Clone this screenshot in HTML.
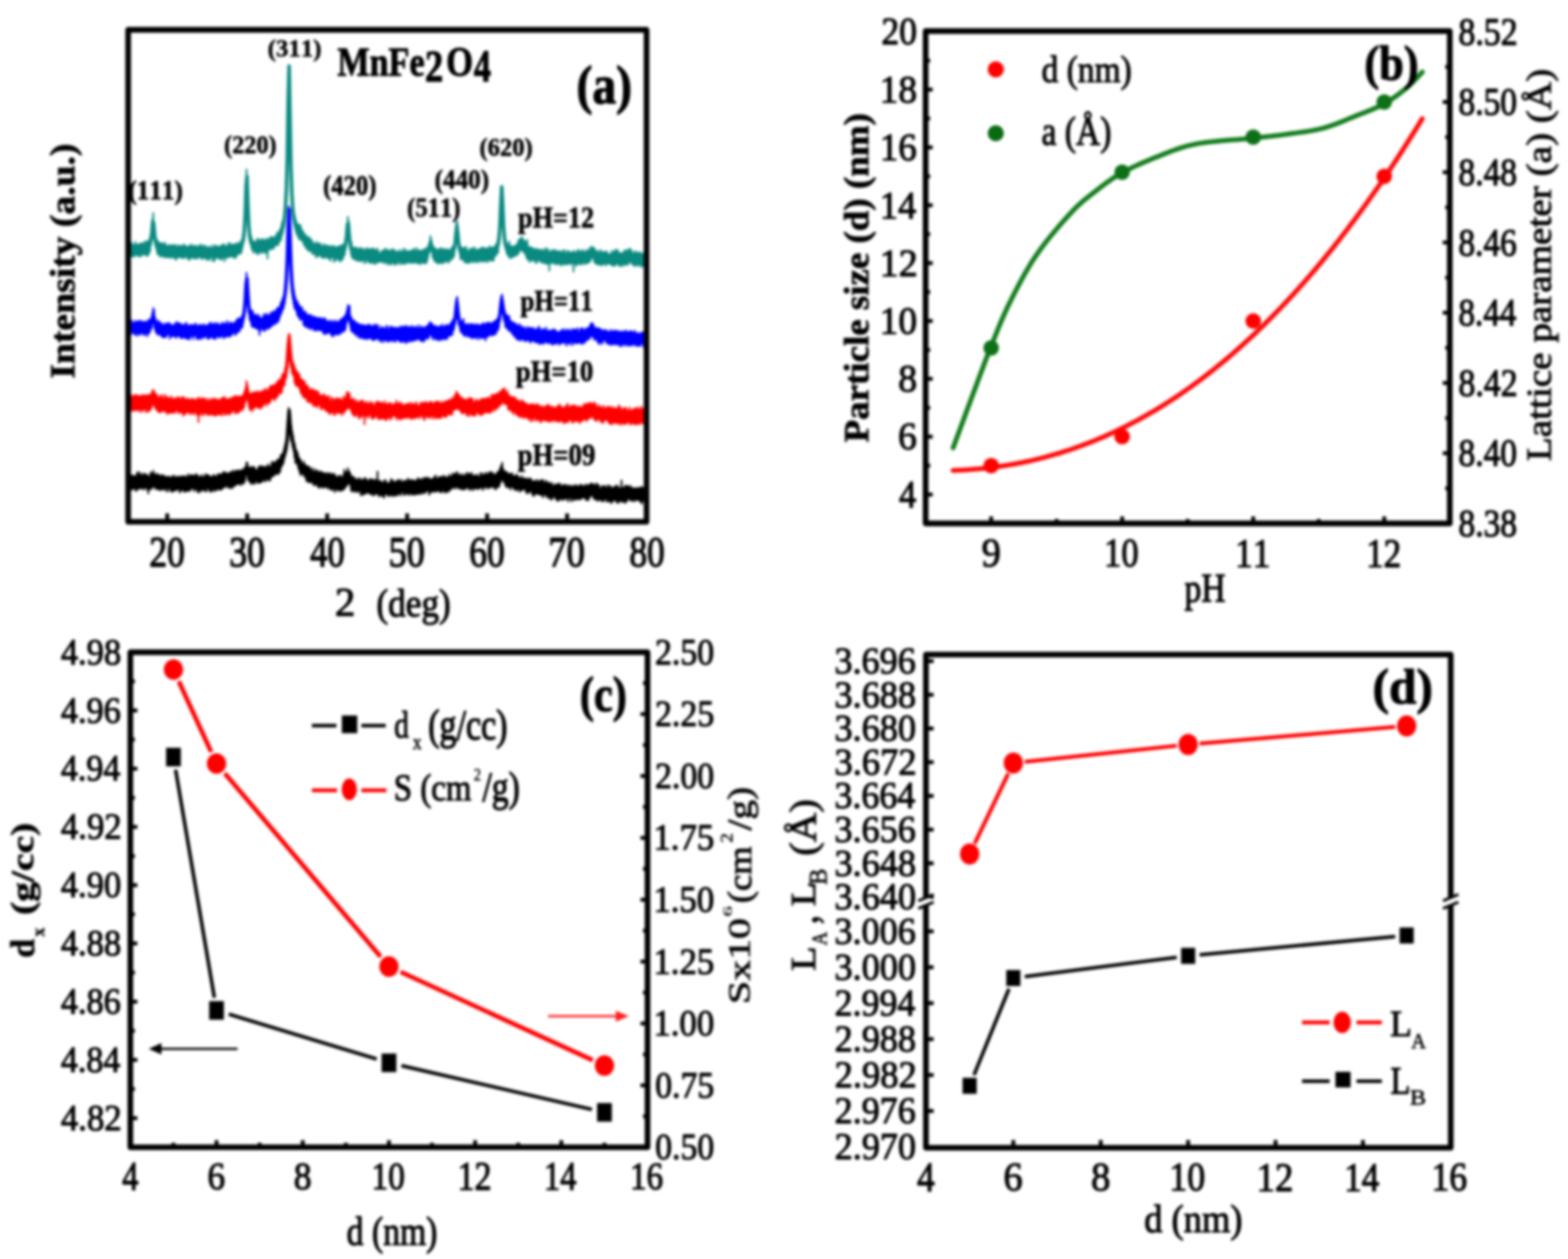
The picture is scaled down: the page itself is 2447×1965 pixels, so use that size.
<!DOCTYPE html><html><head><meta charset="utf-8"><title>MnFe2O4 figure</title>
<style>html,body{margin:0;padding:0;background:#fff;}svg{display:block;}text{font-family:'Liberation Serif', 'Times New Roman', serif;font-kerning:none;}</style></head><body>
<svg width="2447" height="1965" viewBox="0 0 2447 1965">
<rect width="2447" height="1965" fill="#fff"/>
<defs><filter id="bl" color-interpolation-filters="sRGB" x="0" y="0" width="100%" height="100%" filterUnits="userSpaceOnUse"><feGaussianBlur stdDeviation="2.0"/></filter></defs>
<g filter="url(#bl)">
<rect width="2447" height="1965" fill="#fff"/>
<polyline points="202.0,763.8 202.7,742.3 203.4,764.7 204.1,743.4 204.8,762.6 205.5,742.0 206.2,764.1 206.9,742.3 207.6,761.3 208.3,742.5 209.0,762.7 209.7,743.6 210.4,762.0 211.1,743.7 211.8,766.1 212.5,742.6 213.2,765.8 213.9,737.5 214.6,760.8 215.3,740.5 216.0,763.4 216.7,736.7 217.4,760.6 218.1,744.5 218.8,762.5 219.5,741.2 220.2,762.5 220.9,738.6 221.6,761.3 222.3,744.1 223.0,762.5 223.7,742.1 224.4,764.1 225.1,739.3 225.8,760.8 226.5,739.6 227.2,761.4 227.9,740.6 228.6,762.0 229.3,744.6 230.0,764.8 230.7,741.9 231.4,770.2 232.1,749.3 232.8,763.3 233.5,743.3 234.2,760.3 234.9,737.3 235.6,763.9 236.3,740.1 237.0,761.4 237.7,738.9 238.4,761.0 239.1,734.9 239.8,756.8 240.5,738.7 241.2,759.5 241.9,742.3 242.6,763.4 243.3,741.1 244.0,762.3 244.7,739.3 245.4,762.7 246.1,744.1 246.8,764.2 247.5,740.5 248.2,760.7 248.9,743.7 249.6,765.1 250.3,742.3 251.0,762.2 251.7,747.5 252.4,764.5 253.1,741.4 253.8,761.4 254.5,742.1 255.2,763.1 255.9,744.1 256.6,765.2 257.3,743.4 258.0,760.2 258.7,744.9 259.4,762.9 260.1,746.0 260.8,767.3 261.5,743.8 262.2,766.3 262.9,744.5 263.6,761.3 264.3,744.4 265.0,762.1 265.7,745.1 266.4,766.1 267.1,746.5 267.8,767.4 268.5,743.8 269.2,763.4 269.9,743.8 270.6,767.3 271.3,742.1 272.0,764.2 272.7,744.9 273.4,765.2 274.1,745.4 274.8,765.0 275.5,744.9 276.2,764.9 276.9,743.5 277.6,763.4 278.3,744.7 279.0,763.0 279.7,745.0 280.4,768.8 281.1,743.5 281.8,767.1 282.5,744.7 283.2,764.0 283.9,743.7 284.6,764.9 285.3,743.6 286.0,763.4 286.7,743.3 287.4,767.5 288.1,744.6 288.8,767.7 289.5,743.2 290.2,765.7 290.9,746.5 291.6,766.2 292.3,744.4 293.0,765.6 293.7,740.3 294.4,766.5 295.1,743.0 295.8,766.2 296.5,744.7 297.2,764.4 297.9,741.5 298.6,762.2 299.3,741.3 300.0,762.3 300.7,743.6 301.4,762.4 302.1,742.3 302.8,766.8 303.5,741.7 304.2,760.0 304.9,744.0 305.6,763.8 306.3,739.9 307.0,764.8 307.7,742.5 308.4,768.2 309.1,742.4 309.8,764.6 310.5,747.9 311.2,768.7 311.9,744.3 312.6,763.5 313.3,744.5 314.0,765.2 314.7,741.4 315.4,766.3 316.1,744.2 316.8,764.4 317.5,745.6 318.2,761.0 318.9,744.0 319.6,766.3 320.3,740.0 321.0,764.6 321.7,742.1 322.4,767.2 323.1,741.6 323.8,761.3 324.5,741.4 325.2,762.1 325.9,742.1 326.6,766.0 327.3,744.2 328.0,766.2 328.7,744.4 329.4,767.9 330.1,746.2 330.8,766.3 331.5,742.8 332.2,764.5 332.9,744.0 333.6,758.8 334.3,741.1 335.0,766.8 335.7,743.8 336.4,764.4 337.1,745.1 337.8,765.1 338.5,743.4 339.2,763.1 339.9,740.4 340.6,761.9 341.3,741.0 342.0,764.4 342.7,739.7 343.4,764.5 344.1,743.1 344.8,763.4 345.5,740.5 346.2,763.7 346.9,739.3 347.6,762.2 348.3,736.7 349.0,759.0 349.7,739.0 350.4,760.4 351.1,737.1 351.8,759.7 352.5,740.5 353.2,757.3 353.9,738.4 354.6,758.7 355.3,738.8 356.0,761.6 356.7,739.3 357.4,758.8 358.1,738.8 358.8,760.2 359.5,736.8 360.2,762.4 360.9,736.7 361.6,757.3 362.3,737.9 363.0,761.4 363.7,734.4 364.4,756.2 365.1,739.2 365.8,758.7 366.5,736.4 367.2,757.2 367.9,734.9 368.6,756.6 369.3,734.9 370.0,754.3 370.7,734.0 371.4,755.8 372.1,735.3 372.8,754.7 373.5,734.3 374.2,754.8 374.9,736.9 375.6,757.1 376.3,734.4 377.0,755.9 377.7,733.0 378.4,754.1 379.1,733.0 379.8,750.4 380.5,732.7 381.2,754.4 381.9,729.3 382.6,749.5 383.3,729.1 384.0,741.9 384.7,721.9 385.4,738.5 386.1,722.1 386.8,748.5 387.5,728.4 388.2,750.7 388.9,730.4 389.6,750.4 390.3,730.2 391.0,754.4 391.7,728.9 392.4,755.5 393.1,730.5 393.8,753.7 394.5,729.0 395.2,752.2 395.9,728.2 396.6,755.3 397.3,730.5 398.0,754.8 398.7,732.2 399.4,749.5 400.1,734.9 400.8,751.3 401.5,734.0 402.2,753.4 402.9,729.8 403.6,754.2 404.3,728.8 405.0,752.7 405.7,727.0 406.4,752.8 407.1,728.2 407.8,752.7 408.5,729.2 409.2,751.4 409.9,727.7 410.6,748.6 411.3,731.2 412.0,748.9 412.7,728.4 413.4,751.4 414.1,729.5 414.8,750.5 415.5,728.5 416.2,746.4 416.9,730.1 417.6,748.2 418.3,724.9 419.0,749.4 419.7,727.5 420.4,750.1 421.1,728.3 421.8,749.5 422.5,728.6 423.2,744.4 423.9,721.9 424.6,743.9 425.3,720.6 426.0,741.7 426.7,730.4 427.4,742.9 428.1,722.7 428.8,740.3 429.5,720.8 430.2,739.6 430.9,721.7 431.6,739.8 432.3,718.8 433.0,735.8 433.7,717.1 434.4,740.2 435.1,717.5 435.8,737.5 436.5,716.4 437.2,736.3 437.9,710.6 438.6,729.6 439.3,710.3 440.0,727.2 440.7,708.3 441.4,724.6 442.1,705.1 442.8,721.4 443.5,699.2 444.2,714.4 444.9,693.4 445.6,709.8 446.3,687.9 447.0,704.2 447.7,678.9 448.4,692.9 449.1,663.3 449.8,674.5 450.5,636.6 451.2,654.6 451.9,639.6 452.6,671.9 453.3,657.9 454.0,687.3 454.7,664.8 455.4,690.4 456.1,673.8 456.8,698.1 457.5,680.5 458.2,704.0 458.9,689.0 459.6,714.3 460.3,693.7 461.0,722.8 461.7,701.4 462.4,720.6 463.1,703.8 463.8,724.3 464.5,706.8 465.2,729.9 465.9,712.4 466.6,733.6 467.3,715.9 468.0,738.2 468.7,717.2 469.4,742.3 470.1,719.5 470.8,738.4 471.5,724.3 472.2,739.6 472.9,723.7 473.6,740.3 474.3,720.6 475.0,743.9 475.7,725.6 476.4,743.6 477.1,726.1 477.8,749.8 478.5,727.7 479.2,751.1 479.9,727.6 480.6,752.2 481.3,729.2 482.0,750.2 482.7,728.8 483.4,752.7 484.1,730.1 484.8,753.3 485.5,735.0 486.2,752.8 486.9,734.1 487.6,751.6 488.3,731.1 489.0,756.8 489.7,737.7 490.4,756.1 491.1,736.6 491.8,757.5 492.5,733.0 493.2,754.8 493.9,738.2 494.6,756.3 495.3,734.6 496.0,760.0 496.7,740.4 497.4,757.3 498.1,736.6 498.8,761.9 499.5,736.5 500.2,759.5 500.9,735.8 501.6,759.1 502.3,737.4 503.0,759.8 503.7,740.3 504.4,761.8 505.1,738.1 505.8,760.5 506.5,742.4 507.2,759.5 507.9,738.3 508.6,759.8 509.3,743.5 510.0,760.2 510.7,738.8 511.4,762.6 512.1,740.8 512.8,758.6 513.5,738.0 514.2,761.3 514.9,742.8 515.6,763.9 516.3,739.7 517.0,763.7 517.7,739.4 518.4,765.3 519.1,740.5 519.8,763.3 520.5,742.2 521.2,762.5 521.9,739.2 522.6,767.9 523.3,743.7 524.0,759.6 524.7,743.2 525.4,765.2 526.1,745.1 526.8,759.6 527.5,745.8 528.2,764.1 528.9,742.3 529.6,766.6 530.3,743.2 531.0,764.8 531.7,742.8 532.4,764.6 533.1,746.7 533.8,765.7 534.5,745.0 535.2,764.6 535.9,741.1 536.6,761.6 537.3,733.1 538.0,762.9 538.7,740.6 539.4,758.7 540.1,737.2 540.8,759.2 541.5,736.1 542.2,756.5 542.9,730.8 543.6,754.1 544.3,735.5 545.0,754.8 545.7,736.6 546.4,757.1 547.1,740.1 547.8,765.7 548.5,744.9 549.2,767.3 549.9,743.9 550.6,764.1 551.3,745.5 552.0,765.7 552.7,744.6 553.4,768.0 554.1,749.6 554.8,765.9 555.5,748.5 556.2,766.6 556.9,747.4 557.6,765.9 558.3,749.0 559.0,768.8 559.7,750.7 560.4,765.5 561.1,746.0 561.8,766.3 562.5,749.1 563.2,773.2 563.9,748.6 564.6,769.9 565.3,749.8 566.0,772.2 566.7,750.8 567.4,768.0 568.1,746.2 568.8,771.5 569.5,748.0 570.2,768.1 570.9,746.6 571.6,770.2 572.3,749.8 573.0,767.4 573.7,750.4 574.4,768.6 575.1,752.5 575.8,769.5 576.5,748.1 577.2,770.5 577.9,749.8 578.6,771.7 579.3,747.5 580.0,770.5 580.7,748.8 581.4,771.4 582.1,749.6 582.8,773.6 583.5,750.1 584.2,768.0 584.9,748.4 585.6,771.8 586.3,750.6 587.0,770.6 587.7,750.2 588.4,770.7 589.1,736.0 589.8,770.2 590.5,754.0 591.2,775.0 591.9,750.3 592.6,773.2 593.3,753.0 594.0,772.8 594.7,751.4 595.4,772.7 596.1,751.7 596.8,775.0 597.5,754.3 598.2,771.2 598.9,753.5 599.6,777.0 600.3,749.2 601.0,770.9 601.7,749.6 602.4,771.4 603.1,752.4 603.8,770.4 604.5,755.6 605.2,773.6 605.9,754.3 606.6,772.7 607.3,754.3 608.0,774.5 608.7,752.3 609.4,771.2 610.1,747.7 610.8,772.5 611.5,753.2 612.2,773.2 612.9,749.3 613.6,774.6 614.3,756.2 615.0,772.7 615.7,752.1 616.4,772.3 617.1,752.0 617.8,773.6 618.5,752.3 619.2,772.1 619.9,749.9 620.6,772.9 621.3,749.1 622.0,769.2 622.7,752.1 623.4,770.0 624.1,750.4 624.8,773.1 625.5,748.9 626.2,771.5 626.9,752.7 627.6,767.9 628.3,753.9 629.0,766.4 629.7,750.5 630.4,772.6 631.1,751.2 631.8,772.4 632.5,750.1 633.2,770.4 633.9,753.9 634.6,769.7 635.3,750.4 636.0,770.4 636.7,747.1 637.4,772.6 638.1,748.9 638.8,770.2 639.5,751.5 640.2,760.8 640.9,749.7 641.6,772.1 642.3,749.3 643.0,770.0 643.7,749.7 644.4,772.0 645.1,749.5 645.8,770.7 646.5,750.3 647.2,772.3 647.9,752.0 648.6,770.8 649.3,750.0 650.0,771.4 650.7,749.8 651.4,770.9 652.1,746.3 652.8,770.8 653.5,747.5 654.2,768.9 654.9,748.0 655.6,771.1 656.3,750.3 657.0,770.5 657.7,749.4 658.4,768.9 659.1,746.6 659.8,766.0 660.5,750.9 661.2,770.5 661.9,747.2 662.6,768.7 663.3,745.3 664.0,768.4 664.7,746.4 665.4,767.2 666.1,747.0 666.8,765.2 667.5,745.3 668.2,765.6 668.9,748.4 669.6,772.1 670.3,746.7 671.0,766.8 671.7,749.5 672.4,769.1 673.1,748.2 673.8,766.3 674.5,747.4 675.2,766.9 675.9,747.9 676.6,767.2 677.3,745.9 678.0,767.3 678.7,743.6 679.4,765.7 680.1,742.4 680.8,767.6 681.5,747.4 682.2,766.1 682.9,748.5 683.6,764.5 684.3,745.2 685.0,766.3 685.7,744.6 686.4,767.4 687.1,744.2 687.8,768.4 688.5,748.0 689.2,768.4 689.9,744.0 690.6,765.9 691.3,748.0 692.0,762.6 692.7,742.3 693.4,767.4 694.1,744.6 694.8,769.1 695.5,744.8 696.2,765.9 696.9,746.6 697.6,767.7 698.3,744.5 699.0,764.0 699.7,746.2 700.4,767.5 701.1,740.8 701.8,764.5 702.5,744.3 703.2,764.2 703.9,743.8 704.6,763.1 705.3,742.4 706.0,759.2 706.7,738.6 707.4,760.8 708.1,744.5 708.8,762.0 709.5,740.1 710.2,762.5 710.9,740.0 711.6,759.8 712.3,737.8 713.0,757.4 713.7,736.9 714.4,762.2 715.1,741.3 715.8,760.6 716.5,741.5 717.2,762.2 717.9,743.2 718.6,763.1 719.3,739.5 720.0,760.6 720.7,742.2 721.4,764.3 722.1,742.8 722.8,759.6 723.5,743.4 724.2,763.6 724.9,739.9 725.6,764.0 726.3,745.0 727.0,761.9 727.7,741.9 728.4,760.4 729.1,737.9 729.8,761.6 730.5,741.8 731.2,759.3 731.9,739.0 732.6,765.0 733.3,741.8 734.0,763.5 734.7,740.2 735.4,762.7 736.1,737.9 736.8,761.5 737.5,742.5 738.2,765.1 738.9,742.7 739.6,761.9 740.3,742.1 741.0,762.3 741.7,742.7 742.4,762.0 743.1,742.8 743.8,763.1 744.5,740.3 745.2,759.2 745.9,744.5 746.6,763.3 747.3,743.9 748.0,762.4 748.7,743.4 749.4,761.7 750.1,738.4 750.8,760.8 751.5,738.5 752.2,759.6 752.9,742.0 753.6,764.9 754.3,741.3 755.0,761.3 755.7,742.9 756.4,761.3 757.1,738.0 757.8,759.6 758.5,739.1 759.2,758.1 759.9,740.3 760.6,762.6 761.3,742.8 762.0,761.6 762.7,737.5 763.4,760.5 764.1,736.9 764.8,757.8 765.5,737.9 766.2,761.5 766.9,740.4 767.6,760.2 768.3,736.9 769.0,758.8 769.7,740.2 770.4,759.1 771.1,740.4 771.8,762.8 772.5,741.0 773.2,763.5 773.9,740.9 774.6,763.3 775.3,738.6 776.0,758.4 776.7,736.2 777.4,759.6 778.1,736.6 778.8,760.2 779.5,733.9 780.2,755.8 780.9,729.2 781.6,751.8 782.3,726.5 783.0,739.2 783.7,722.0 784.4,749.3 785.1,731.2 785.8,752.2 786.5,737.1 787.2,753.3 787.9,735.5 788.6,757.4 789.3,735.8 790.0,760.1 790.7,737.6 791.4,757.6 792.1,738.3 792.8,760.7 793.5,739.0 794.2,761.0 794.9,741.3 795.6,759.1 796.3,739.6 797.0,764.3 797.7,740.2 798.4,758.4 799.1,738.3 799.8,759.7 800.5,743.2 801.2,761.7 801.9,742.9 802.6,763.1 803.3,742.8 804.0,765.0 804.7,743.3 805.4,763.6 806.1,740.6 806.8,765.5 807.5,743.6 808.2,762.6 808.9,743.4 809.6,763.6 810.3,748.1 811.0,767.6 811.7,745.7 812.4,764.0 813.1,747.8 813.8,765.4 814.5,743.0 815.2,764.8 815.9,746.7 816.6,763.4 817.3,747.8 818.0,763.8 818.7,746.8 819.4,763.5 820.1,746.6 820.8,768.7 821.5,747.4 822.2,765.4 822.9,748.4 823.6,770.4 824.3,748.2 825.0,768.2 825.7,746.5 826.4,767.9 827.1,748.7 827.8,766.0 828.5,747.1 829.2,767.2 829.9,750.5 830.6,772.4 831.3,752.9 832.0,771.8 832.7,750.7 833.4,774.5 834.1,750.9 834.8,770.1 835.5,750.6 836.2,770.9 836.9,752.0 837.6,770.4 838.3,749.0 839.0,770.5 839.7,754.8 840.4,771.8 841.1,751.9 841.8,771.9 842.5,750.7 843.2,772.0 843.9,749.6 844.6,772.7 845.3,749.2 846.0,772.7 846.7,755.4 847.4,776.7 848.1,749.3 848.8,772.9 849.5,753.3 850.2,770.9 850.9,754.5 851.6,772.2 852.3,750.9 853.0,774.6 853.7,751.6 854.4,777.1 855.1,755.5 855.8,775.6 856.5,753.5 857.2,770.9 857.9,754.4 858.6,779.3 859.3,757.4 860.0,779.5 860.7,753.2 861.4,779.1 862.1,758.8 862.8,776.8 863.5,758.6 864.2,774.2 864.9,755.9 865.6,775.3 866.3,757.1 867.0,779.0 867.7,757.0 868.4,778.1 869.1,755.9 869.8,781.9 870.5,760.6 871.2,778.7 871.9,754.3 872.6,781.3 873.3,759.0 874.0,777.0 874.7,755.7 875.4,778.8 876.1,759.4 876.8,778.9 877.5,759.2 878.2,780.1 878.9,756.6 879.6,780.2 880.3,759.6 881.0,778.0 881.7,756.9 882.4,776.6 883.1,758.4 883.8,778.6 884.5,757.1 885.2,778.6 885.9,761.6 886.6,782.6 887.3,758.8 888.0,777.0 888.7,757.6 889.4,776.2 890.1,758.5 890.8,780.1 891.5,759.6 892.2,782.5 892.9,760.7 893.6,775.8 894.3,757.6 895.0,778.4 895.7,760.1 896.4,780.7 897.1,759.4 897.8,776.1 898.5,756.8 899.2,779.7 899.9,758.6 900.6,777.6 901.3,758.6 902.0,779.2 902.7,759.0 903.4,778.3 904.1,759.2 904.8,780.0 905.5,756.4 906.2,778.2 906.9,758.6 907.6,776.7 908.3,757.4 909.0,777.6 909.7,758.6 910.4,776.0 911.1,759.6 911.8,776.3 912.5,759.0 913.2,777.8 913.9,756.1 914.6,780.7 915.3,760.9 916.0,780.3 916.7,757.3 917.4,775.4 918.1,757.0 918.8,780.6 919.5,759.5 920.2,773.9 920.9,756.1 921.6,775.5 922.3,754.3 923.0,773.3 923.7,756.8 924.4,771.1 925.1,755.3 925.8,775.9 926.5,756.1 927.2,779.2 927.9,757.6 928.6,779.1 929.3,759.7 930.0,777.8 930.7,754.3 931.4,780.5 932.1,756.4 932.8,781.6 933.5,757.1 934.2,780.6 934.9,757.6 935.6,779.4 936.3,763.3 937.0,779.3 937.7,762.4 938.4,781.5 939.1,759.3 939.8,782.8 940.5,758.9 941.2,778.9 941.9,758.8 942.6,781.9 943.3,761.2 944.0,778.9 944.7,758.6 945.4,775.6 946.1,761.3 946.8,783.0 947.5,762.8 948.2,781.2 948.9,757.4 949.6,782.7 950.3,761.2 951.0,778.1 951.7,758.8 952.4,782.7 953.1,759.1 953.8,785.5 954.5,762.6 955.2,783.5 955.9,762.8 956.6,780.1 957.3,760.3 958.0,781.8 958.7,760.0 959.4,779.9 960.1,762.0 960.8,780.2 961.5,757.6 962.2,784.2 962.9,760.5 963.6,779.9 964.3,758.5 965.0,785.2 965.7,763.2 966.4,779.0 967.1,761.8 967.8,782.3 968.5,762.8 969.2,779.3 969.9,749.8 970.6,783.1 971.3,762.0 972.0,783.3 972.7,761.1 973.4,781.2 974.1,762.0 974.8,783.9 975.5,758.1 976.2,785.0 976.9,760.0 977.6,781.9 978.3,758.3 979.0,781.7 979.7,758.2 980.4,777.7 981.1,759.9 981.8,778.3 982.5,765.2 983.2,780.7 983.9,758.2 984.6,779.7 985.3,763.2 986.0,782.2 986.7,761.4 987.4,780.6 988.1,762.8 988.8,779.0 989.5,762.2 990.2,782.5 990.9,762.4 991.6,778.7 992.3,763.0 993.0,780.5 993.7,761.2 994.4,780.1 995.1,762.1 995.8,780.6 996.5,762.7 997.2,779.8 997.9,761.8 998.6,781.9 999.3,761.4 1000.0,783.7 1000.7,759.9 1001.4,786.1 1002.1,761.6 1002.8,782.6 1003.5,761.3 1004.2,780.5 1004.9,761.5 1005.6,780.0 1006.3,759.6" fill="none" stroke="#000000" stroke-width="2.6" stroke-linejoin="round" stroke-linecap="round"/>
<polyline points="202.0,751.0 203.4,751.1 204.8,751.2 206.2,751.3 207.6,751.4 209.0,751.5 210.4,751.6 211.8,751.7 213.2,751.7 214.6,751.8 216.0,751.9 217.4,752.0 218.8,752.1 220.2,752.1 221.6,752.2 223.0,752.3 224.4,752.3 225.8,752.4 227.2,752.4 228.6,752.4 230.0,752.4 231.4,752.2 232.8,752.0 234.2,751.5 235.6,750.5 237.0,748.5 238.4,745.9 239.8,746.3 241.2,749.2 242.6,751.2 244.0,752.3 245.4,752.9 246.8,753.3 248.2,753.6 249.6,753.8 251.0,754.0 252.4,754.1 253.8,754.3 255.2,754.4 256.6,754.5 258.0,754.6 259.4,754.7 260.8,754.8 262.2,754.8 263.6,754.8 265.0,754.8 266.4,754.7 267.8,754.7 269.2,754.7 270.6,754.7 272.0,754.7 273.4,754.7 274.8,754.6 276.2,754.6 277.6,754.6 279.0,754.6 280.4,754.6 281.8,754.5 283.2,754.5 284.6,754.5 286.0,754.5 287.4,754.5 288.8,754.4 290.2,754.4 291.6,754.4 293.0,754.4 294.4,754.3 295.8,754.3 297.2,754.3 298.6,754.3 300.0,754.3 301.4,754.2 302.8,754.2 304.2,754.2 305.6,754.2 307.0,754.1 308.4,754.1 309.8,754.1 311.2,754.1 312.6,754.1 314.0,754.0 315.4,754.0 316.8,754.0 318.2,754.0 319.6,753.9 321.0,753.9 322.4,753.9 323.8,753.9 325.2,753.8 326.6,753.8 328.0,753.8 329.4,753.8 330.8,753.6 332.2,753.4 333.6,753.2 335.0,752.9 336.4,752.7 337.8,752.5 339.2,752.2 340.6,752.0 342.0,751.8 343.4,751.5 344.8,751.3 346.2,751.1 347.6,750.8 349.0,750.6 350.4,750.4 351.8,750.1 353.2,749.9 354.6,749.7 356.0,749.4 357.4,749.2 358.8,748.9 360.2,748.7 361.6,748.4 363.0,748.2 364.4,747.9 365.8,747.7 367.2,747.4 368.6,747.1 370.0,746.9 371.4,746.6 372.8,746.3 374.2,745.9 375.6,745.5 377.0,745.1 378.4,744.5 379.8,743.6 381.2,742.1 382.6,739.2 384.0,733.5 385.4,731.0 386.8,736.5 388.2,740.0 389.6,741.5 391.0,742.1 392.4,742.3 393.8,742.3 395.2,742.2 396.6,742.1 398.0,741.9 399.4,741.7 400.8,741.5 402.2,741.2 403.6,741.0 405.0,740.7 406.4,740.4 407.8,740.1 409.2,739.8 410.6,739.5 412.0,739.2 413.4,738.9 414.8,738.5 416.2,738.1 417.6,737.8 419.0,737.4 420.4,736.8 421.8,736.1 423.2,735.3 424.6,734.5 426.0,733.6 427.4,732.7 428.8,731.7 430.2,730.6 431.6,729.5 433.0,728.2 434.4,726.7 435.8,725.0 437.2,723.1 438.6,720.9 440.0,718.3 441.4,715.6 442.8,712.3 444.2,708.0 445.6,702.4 447.0,694.8 448.4,683.0 449.8,661.1 451.2,641.1 452.6,660.6 454.0,673.8 455.4,681.8 456.8,689.0 458.2,695.7 459.6,701.7 461.0,707.3 462.4,712.3 463.8,716.4 465.2,720.0 466.6,722.9 468.0,725.5 469.4,727.7 470.8,729.7 472.2,731.4 473.6,733.0 475.0,734.4 476.4,735.7 477.8,737.0 479.2,738.1 480.6,739.2 482.0,740.3 483.4,741.3 484.8,742.3 486.2,743.2 487.6,744.1 489.0,745.0 490.4,745.7 491.8,746.1 493.2,746.5 494.6,746.9 496.0,747.2 497.4,747.6 498.8,747.9 500.2,748.3 501.6,748.6 503.0,748.9 504.4,749.2 505.8,749.5 507.2,749.8 508.6,750.1 510.0,750.4 511.4,750.7 512.8,751.0 514.2,751.2 515.6,751.5 517.0,751.8 518.4,752.0 519.8,752.3 521.2,752.5 522.6,752.7 524.0,752.9 525.4,753.1 526.8,753.3 528.2,753.4 529.6,753.5 531.0,753.5 532.4,753.5 533.8,753.3 535.2,752.9 536.6,752.3 538.0,751.1 539.4,749.3 540.8,746.7 542.2,744.3 543.6,744.2 545.0,746.7 546.4,749.7 547.8,752.1 549.2,753.7 550.6,754.9 552.0,755.7 553.4,756.3 554.8,756.8 556.2,757.2 557.6,757.5 559.0,757.8 560.4,758.1 561.8,758.3 563.2,758.6 564.6,758.8 566.0,759.0 567.4,759.1 568.8,759.3 570.2,759.5 571.6,759.7 573.0,759.8 574.4,760.0 575.8,760.2 577.2,760.3 578.6,760.5 580.0,760.6 581.4,760.8 582.8,760.9 584.2,761.1 585.6,761.3 587.0,761.4 588.4,761.6 589.8,761.7 591.2,761.8 592.6,762.0 594.0,762.1 595.4,762.3 596.8,762.4 598.2,762.6 599.6,762.7 601.0,762.7 602.4,762.6 603.8,762.5 605.2,762.4 606.6,762.3 608.0,762.2 609.4,762.1 610.8,762.0 612.2,761.9 613.6,761.8 615.0,761.7 616.4,761.6 617.8,761.5 619.2,761.4 620.6,761.3 622.0,761.2 623.4,761.1 624.8,761.0 626.2,760.9 627.6,760.8 629.0,760.7 630.4,760.6 631.8,760.5 633.2,760.4 634.6,760.3 636.0,760.2 637.4,760.1 638.8,760.0 640.2,759.9 641.6,759.7 643.0,759.6 644.4,759.5 645.8,759.4 647.2,759.3 648.6,759.2 650.0,759.1 651.4,759.0 652.8,758.9 654.2,758.8 655.6,758.7 657.0,758.6 658.4,758.5 659.8,758.4 661.2,758.3 662.6,758.2 664.0,758.1 665.4,758.0 666.8,757.9 668.2,757.8 669.6,757.7 671.0,757.5 672.4,757.4 673.8,757.3 675.2,757.2 676.6,757.1 678.0,757.0 679.4,756.9 680.8,756.8 682.2,756.7 683.6,756.5 685.0,756.4 686.4,756.3 687.8,756.2 689.2,756.0 690.6,755.9 692.0,755.8 693.4,755.6 694.8,755.5 696.2,755.3 697.6,755.2 699.0,755.0 700.4,754.8 701.8,754.6 703.2,754.3 704.6,754.0 706.0,753.5 707.4,752.9 708.8,751.8 710.2,750.1 711.6,747.7 713.0,746.2 714.4,747.5 715.8,749.7 717.2,751.1 718.6,751.9 720.0,752.4 721.4,752.6 722.8,752.7 724.2,752.7 725.6,752.7 727.0,752.7 728.4,752.6 729.8,752.5 731.2,752.5 732.6,752.4 734.0,752.3 735.4,752.2 736.8,752.1 738.2,752.0 739.6,751.9 741.0,751.8 742.4,751.7 743.8,751.6 745.2,751.5 746.6,751.5 748.0,751.4 749.4,751.3 750.8,751.2 752.2,751.1 753.6,751.0 755.0,751.0 756.4,750.9 757.8,750.8 759.2,750.7 760.6,750.6 762.0,750.5 763.4,750.4 764.8,750.3 766.2,750.2 767.6,750.1 769.0,750.0 770.4,749.9 771.8,749.7 773.2,749.5 774.6,749.3 776.0,749.0 777.4,748.5 778.8,747.6 780.2,745.5 781.6,739.8 783.0,731.4 784.4,739.7 785.8,745.2 787.2,747.1 788.6,747.8 790.0,748.2 791.4,748.8 792.8,749.3 794.2,749.8 795.6,750.2 797.0,750.7 798.4,751.1 799.8,751.5 801.2,751.9 802.6,752.3 804.0,752.7 805.4,753.1 806.8,753.5 808.2,753.9 809.6,754.3 811.0,754.7 812.4,755.1 813.8,755.5 815.2,755.8 816.6,756.2 818.0,756.6 819.4,757.0 820.8,757.4 822.2,757.8 823.6,758.2 825.0,758.6 826.4,758.9 827.8,759.3 829.2,759.7 830.6,760.1 832.0,760.3 833.4,760.6 834.8,760.9 836.2,761.2 837.6,761.5 839.0,761.7 840.4,762.0 841.8,762.3 843.2,762.6 844.6,762.9 846.0,763.1 847.4,763.4 848.8,763.7 850.2,764.0 851.6,764.3 853.0,764.5 854.4,764.8 855.8,765.1 857.2,765.4 858.6,765.7 860.0,765.9 861.4,766.2 862.8,766.5 864.2,766.8 865.6,767.1 867.0,767.3 868.4,767.6 869.8,767.9 871.2,768.0 872.6,768.0 874.0,768.1 875.4,768.1 876.8,768.1 878.2,768.2 879.6,768.2 881.0,768.2 882.4,768.3 883.8,768.3 885.2,768.4 886.6,768.4 888.0,768.4 889.4,768.5 890.8,768.5 892.2,768.5 893.6,768.6 895.0,768.6 896.4,768.6 897.8,768.7 899.2,768.7 900.6,768.7 902.0,768.7 903.4,768.7 904.8,768.8 906.2,768.8 907.6,768.8 909.0,768.8 910.4,768.7 911.8,768.7 913.2,768.6 914.6,768.5 916.0,768.3 917.4,768.0 918.8,767.5 920.2,766.8 921.6,765.8 923.0,764.8 924.4,764.6 925.8,765.4 927.2,766.6 928.6,767.5 930.0,768.2 931.4,768.6 932.8,768.9 934.2,769.1 935.6,769.3 937.0,769.5 938.4,769.6 939.8,769.7 941.2,769.8 942.6,769.8 944.0,769.9 945.4,770.0 946.8,770.0 948.2,770.1 949.6,770.1 951.0,770.2 952.4,770.2 953.8,770.3 955.2,770.3 956.6,770.4 958.0,770.4 959.4,770.5 960.8,770.5 962.2,770.6 963.6,770.6 965.0,770.7 966.4,770.7 967.8,770.7 969.2,770.8 970.6,770.8 972.0,770.9 973.4,770.9 974.8,770.9 976.2,771.0 977.6,771.0 979.0,771.1 980.4,771.1 981.8,771.2 983.2,771.2 984.6,771.2 986.0,771.3 987.4,771.3 988.8,771.4 990.2,771.4 991.6,771.4 993.0,771.5 994.4,771.5 995.8,771.6 997.2,771.6 998.6,771.6 1000.0,771.7 1001.4,771.7 1002.8,771.8 1004.2,771.8 1005.6,771.8" fill="none" stroke="#000000" stroke-width="5.5" stroke-linejoin="round" stroke-linecap="round"/>
<polyline points="202.0,638.7 202.7,621.1 203.4,642.6 204.1,618.9 204.8,637.2 205.5,617.2 206.2,640.1 206.9,620.8 207.6,641.4 208.3,618.7 209.0,638.9 209.7,616.6 210.4,639.9 211.1,616.8 211.8,641.3 212.5,616.6 213.2,639.3 213.9,619.5 214.6,640.0 215.3,617.2 216.0,638.8 216.7,617.9 217.4,641.0 218.1,620.2 218.8,643.2 219.5,618.6 220.2,638.8 220.9,616.7 221.6,638.6 222.3,617.1 223.0,642.2 223.7,617.2 224.4,640.9 225.1,617.9 225.8,638.2 226.5,616.8 227.2,637.8 227.9,616.7 228.6,643.4 229.3,620.7 230.0,642.6 230.7,617.0 231.4,641.9 232.1,616.5 232.8,637.9 233.5,615.5 234.2,640.7 234.9,619.6 235.6,638.4 236.3,614.6 237.0,635.3 237.7,609.9 238.4,628.0 239.1,608.4 239.8,631.5 240.5,610.9 241.2,634.5 241.9,614.4 242.6,638.5 243.3,618.0 244.0,638.3 244.7,615.3 245.4,640.5 246.1,618.6 246.8,642.5 247.5,621.8 248.2,643.0 248.9,620.8 249.6,644.2 250.3,618.7 251.0,640.4 251.7,616.3 252.4,642.4 253.1,618.2 253.8,639.7 254.5,622.3 255.2,640.6 255.9,624.4 256.6,642.2 257.3,615.8 258.0,642.3 258.7,623.3 259.4,641.9 260.1,619.4 260.8,646.4 261.5,620.2 262.2,642.3 262.9,621.3 263.6,644.7 264.3,623.2 265.0,644.3 265.7,621.6 266.4,644.2 267.1,618.4 267.8,644.3 268.5,622.8 269.2,644.1 269.9,623.2 270.6,643.8 271.3,622.7 272.0,642.2 272.7,621.1 273.4,644.7 274.1,623.5 274.8,639.8 275.5,622.9 276.2,640.1 276.9,619.7 277.6,643.0 278.3,624.1 279.0,645.2 279.7,620.1 280.4,643.5 281.1,623.0 281.8,642.5 282.5,623.2 283.2,643.4 283.9,620.2 284.6,645.2 285.3,619.4 286.0,649.3 286.7,620.6 287.4,645.0 288.1,621.7 288.8,646.1 289.5,626.8 290.2,645.6 290.9,623.2 291.6,642.7 292.3,621.9 293.0,643.1 293.7,623.1 294.4,644.2 295.1,627.1 295.8,644.2 296.5,623.5 297.2,647.0 297.9,623.0 298.6,641.9 299.3,623.9 300.0,644.4 300.7,622.4 301.4,644.5 302.1,624.3 302.8,647.2 303.5,623.2 304.2,640.9 304.9,626.2 305.6,643.2 306.3,624.2 307.0,647.1 307.7,622.6 308.4,642.7 309.1,621.9 309.8,659.1 310.5,620.6 311.2,648.8 311.9,626.0 312.6,645.9 313.3,622.8 314.0,644.1 314.7,625.8 315.4,645.8 316.1,620.6 316.8,649.2 317.5,622.7 318.2,641.5 318.9,627.5 319.6,644.6 320.3,622.1 321.0,645.9 321.7,622.7 322.4,644.5 323.1,626.2 323.8,648.7 324.5,626.2 325.2,643.7 325.9,622.4 326.6,646.1 327.3,625.5 328.0,647.5 328.7,627.7 329.4,647.6 330.1,622.5 330.8,647.3 331.5,622.8 332.2,642.4 332.9,625.5 333.6,648.3 334.3,622.2 335.0,647.3 335.7,624.4 336.4,649.2 337.1,622.3 337.8,646.2 338.5,625.5 339.2,647.5 339.9,624.0 340.6,646.7 341.3,625.0 342.0,646.9 342.7,624.3 343.4,645.8 344.1,623.4 344.8,647.0 345.5,621.5 346.2,648.9 346.9,625.7 347.6,644.0 348.3,620.6 349.0,641.4 349.7,621.1 350.4,647.6 351.1,619.6 351.8,643.4 352.5,624.3 353.2,646.9 353.9,623.9 354.6,643.7 355.3,622.7 356.0,644.7 356.7,624.9 357.4,647.6 358.1,621.6 358.8,645.6 359.5,626.0 360.2,645.3 360.9,622.1 361.6,643.3 362.3,620.6 363.0,641.9 363.7,620.1 364.4,642.0 365.1,620.0 365.8,640.8 366.5,618.2 367.2,646.0 367.9,618.4 368.6,641.0 369.3,619.0 370.0,644.5 370.7,622.9 371.4,642.9 372.1,617.7 372.8,644.2 373.5,620.3 374.2,641.4 374.9,619.5 375.6,640.1 376.3,618.2 377.0,640.3 377.7,618.0 378.4,640.0 379.1,618.5 379.8,637.2 380.5,613.1 381.2,634.9 381.9,615.8 382.6,628.2 383.3,604.6 384.0,623.4 384.7,594.6 385.4,615.8 386.1,599.9 386.8,627.2 387.5,609.8 388.2,633.9 388.9,614.0 389.6,640.2 390.3,614.8 391.0,638.3 391.7,614.2 392.4,638.8 393.1,615.0 393.8,642.2 394.5,611.9 395.2,636.7 395.9,613.7 396.6,637.4 397.3,613.1 398.0,633.6 398.7,612.0 399.4,635.2 400.1,614.7 400.8,632.7 401.5,610.3 402.2,636.6 402.9,613.7 403.6,634.2 404.3,613.2 405.0,637.2 405.7,611.1 406.4,630.7 407.1,613.3 407.8,637.4 408.5,611.7 409.2,634.2 409.9,609.5 410.6,633.5 411.3,609.9 412.0,632.2 412.7,611.4 413.4,628.9 414.1,606.0 414.8,628.8 415.5,609.0 416.2,633.6 416.9,610.1 417.6,626.4 418.3,609.3 419.0,629.1 419.7,605.8 420.4,629.1 421.1,604.9 421.8,627.7 422.5,601.9 423.2,622.8 423.9,603.3 424.6,622.8 425.3,601.7 426.0,620.9 426.7,601.8 427.4,622.5 428.1,600.7 428.8,625.5 429.5,602.9 430.2,621.5 430.9,598.2 431.6,619.4 432.3,596.7 433.0,619.6 433.7,595.9 434.4,616.1 435.1,592.6 435.8,613.5 436.5,594.6 437.2,611.2 437.9,592.5 438.6,614.1 439.3,588.8 440.0,611.9 440.7,584.1 441.4,604.6 442.1,583.2 442.8,601.7 443.5,583.1 444.2,600.9 444.9,574.7 445.6,592.4 446.3,571.2 447.0,588.6 447.7,555.4 448.4,570.1 449.1,544.8 449.8,552.6 450.5,521.5 451.2,537.6 451.9,521.2 452.6,556.3 453.3,547.6 454.0,573.4 454.7,553.9 455.4,580.8 456.1,563.9 456.8,585.4 457.5,565.5 458.2,585.9 458.9,570.0 459.6,596.8 460.3,573.3 461.0,600.7 461.7,578.0 462.4,602.0 463.1,580.4 463.8,600.6 464.5,580.4 465.2,603.5 465.9,587.4 466.6,604.3 467.3,584.3 468.0,608.5 468.7,591.4 469.4,613.6 470.1,591.3 470.8,614.3 471.5,592.0 472.2,617.5 472.9,594.7 473.6,619.7 474.3,596.2 475.0,621.4 475.7,595.0 476.4,620.7 477.1,602.3 477.8,619.9 478.5,601.7 479.2,626.0 479.9,601.8 480.6,627.8 481.3,604.1 482.0,625.0 482.7,608.2 483.4,626.5 484.1,608.5 484.8,629.4 485.5,608.6 486.2,627.3 486.9,606.9 487.6,628.9 488.3,609.6 489.0,634.1 489.7,608.8 490.4,630.1 491.1,612.9 491.8,633.3 492.5,609.4 493.2,630.3 493.9,613.2 494.6,636.3 495.3,610.9 496.0,633.5 496.7,611.3 497.4,631.2 498.1,616.7 498.8,631.7 499.5,617.8 500.2,637.3 500.9,616.3 501.6,639.5 502.3,618.5 503.0,636.0 503.7,620.3 504.4,635.6 505.1,614.6 505.8,638.7 506.5,620.0 507.2,637.8 507.9,617.8 508.6,641.6 509.3,618.2 510.0,640.9 510.7,622.1 511.4,641.9 512.1,620.4 512.8,643.6 513.5,617.9 514.2,646.7 514.9,625.7 515.6,644.6 516.3,626.1 517.0,642.7 517.7,620.3 518.4,644.5 519.1,621.7 519.8,641.9 520.5,624.5 521.2,647.6 521.9,623.9 522.6,647.8 523.3,624.7 524.0,643.2 524.7,621.0 525.4,640.9 526.1,625.8 526.8,645.4 527.5,622.1 528.2,645.1 528.9,624.9 529.6,643.8 530.3,621.7 531.0,644.5 531.7,623.5 532.4,642.3 533.1,624.8 533.8,648.1 534.5,626.1 535.2,644.2 535.9,618.6 536.6,641.6 537.3,621.7 538.0,643.9 538.7,623.0 539.4,636.6 540.1,617.4 540.8,639.2 541.5,611.9 542.2,637.7 542.9,615.0 543.6,637.1 544.3,612.5 545.0,635.1 545.7,615.9 546.4,637.0 547.1,622.6 547.8,641.3 548.5,623.4 549.2,645.1 549.9,624.7 550.6,645.2 551.3,621.6 552.0,648.7 552.7,626.2 553.4,648.6 554.1,626.6 554.8,649.9 555.5,624.1 556.2,645.5 556.9,628.9 557.6,646.1 558.3,629.5 559.0,650.3 559.7,626.9 560.4,653.9 561.1,628.3 561.8,650.3 562.5,625.7 563.2,649.5 563.9,628.0 564.6,651.5 565.3,624.3 566.0,646.5 566.7,626.7 567.4,647.9 568.1,630.7 568.8,662.3 569.5,629.8 570.2,650.7 570.9,626.8 571.6,648.7 572.3,627.8 573.0,649.2 573.7,632.6 574.4,652.7 575.1,630.1 575.8,645.5 576.5,629.6 577.2,647.7 577.9,626.5 578.6,648.7 579.3,630.3 580.0,652.6 580.7,631.4 581.4,654.0 582.1,628.3 582.8,653.1 583.5,632.7 584.2,652.1 584.9,634.6 585.6,648.5 586.3,628.7 587.0,650.0 587.7,628.0 588.4,648.7 589.1,626.0 589.8,654.1 590.5,629.2 591.2,651.0 591.9,628.2 592.6,654.2 593.3,628.6 594.0,654.0 594.7,628.3 595.4,651.9 596.1,628.8 596.8,653.6 597.5,629.8 598.2,653.1 598.9,631.0 599.6,650.6 600.3,625.8 601.0,654.6 601.7,631.4 602.4,656.2 603.1,631.8 603.8,649.5 604.5,629.7 605.2,653.8 605.9,630.4 606.6,650.9 607.3,630.0 608.0,649.3 608.7,628.5 609.4,655.3 610.1,629.3 610.8,653.2 611.5,633.1 612.2,650.6 612.9,632.7 613.6,649.0 614.3,631.1 615.0,648.7 615.7,630.0 616.4,649.3 617.1,632.8 617.8,651.1 618.5,625.1 619.2,655.3 619.9,630.6 620.6,649.2 621.3,631.9 622.0,652.1 622.7,628.5 623.4,653.4 624.1,630.2 624.8,654.7 625.5,627.9 626.2,654.5 626.9,631.8 627.6,651.7 628.3,633.8 629.0,652.6 629.7,631.5 630.4,652.3 631.1,632.4 631.8,651.9 632.5,632.4 633.2,652.2 633.9,631.1 634.6,652.2 635.3,629.9 636.0,651.5 636.7,630.3 637.4,649.9 638.1,631.2 638.8,652.1 639.5,630.3 640.2,649.0 640.9,628.3 641.6,654.3 642.3,634.2 643.0,648.8 643.7,631.0 644.4,653.4 645.1,629.7 645.8,651.7 646.5,631.9 647.2,649.1 647.9,632.1 648.6,653.5 649.3,627.5 650.0,650.9 650.7,629.5 651.4,650.1 652.1,633.9 652.8,650.4 653.5,634.1 654.2,653.2 654.9,632.3 655.6,649.2 656.3,628.7 657.0,648.0 657.7,627.8 658.4,650.1 659.1,631.4 659.8,649.3 660.5,629.0 661.2,654.8 661.9,631.3 662.6,655.7 663.3,626.8 664.0,649.4 664.7,631.0 665.4,650.3 666.1,628.4 666.8,648.2 667.5,633.1 668.2,652.2 668.9,629.4 669.6,647.1 670.3,627.5 671.0,652.1 671.7,628.5 672.4,649.4 673.1,626.8 673.8,647.5 674.5,629.4 675.2,653.8 675.9,630.3 676.6,648.4 677.3,628.7 678.0,649.4 678.7,628.7 679.4,653.5 680.1,626.6 680.8,650.2 681.5,627.0 682.2,652.1 682.9,627.9 683.6,647.2 684.3,626.5 685.0,652.8 685.7,628.1 686.4,653.0 687.1,629.6 687.8,649.5 688.5,632.7 689.2,652.0 689.9,626.7 690.6,648.2 691.3,631.9 692.0,648.2 692.7,628.5 693.4,650.1 694.1,626.9 694.8,650.1 695.5,627.5 696.2,651.3 696.9,625.5 697.6,648.7 698.3,629.5 699.0,645.6 699.7,624.7 700.4,645.7 701.1,623.8 701.8,647.7 702.5,624.0 703.2,647.1 703.9,626.2 704.6,642.4 705.3,621.6 706.0,646.6 706.7,624.8 707.4,640.6 708.1,620.7 708.8,638.5 709.5,617.7 710.2,639.4 710.9,615.5 711.6,638.8 712.3,610.9 713.0,637.5 713.7,613.1 714.4,638.6 715.1,616.3 715.8,632.8 716.5,616.4 717.2,640.3 717.9,619.2 718.6,641.1 719.3,621.0 720.0,644.3 720.7,620.6 721.4,645.1 722.1,626.4 722.8,645.7 723.5,622.8 724.2,643.5 724.9,623.0 725.6,643.7 726.3,625.1 727.0,644.6 727.7,624.1 728.4,648.1 729.1,625.0 729.8,646.6 730.5,622.1 731.2,649.8 731.9,625.2 732.6,645.3 733.3,621.1 734.0,644.4 734.7,622.0 735.4,648.7 736.1,623.2 736.8,647.9 737.5,621.7 738.2,647.5 738.9,627.3 739.6,648.6 740.3,627.5 741.0,646.2 741.7,627.2 742.4,648.6 743.1,623.8 743.8,643.2 744.5,623.5 745.2,643.5 745.9,626.6 746.6,645.7 747.3,627.3 748.0,646.2 748.7,625.5 749.4,647.8 750.1,623.0 750.8,648.1 751.5,624.1 752.2,645.3 752.9,622.4 753.6,646.5 754.3,623.5 755.0,645.8 755.7,622.5 756.4,642.0 757.1,621.7 757.8,643.5 758.5,622.8 759.2,641.8 759.9,622.5 760.6,644.5 761.3,620.7 762.0,643.3 762.7,620.4 763.4,643.9 764.1,622.8 764.8,644.6 765.5,623.7 766.2,638.5 766.9,616.4 767.6,641.6 768.3,616.2 769.0,642.5 769.7,620.0 770.4,629.2 771.1,616.6 771.8,638.0 772.5,616.8 773.2,640.7 773.9,615.0 774.6,637.1 775.3,613.7 776.0,636.9 776.7,615.4 777.4,636.5 778.1,615.7 778.8,632.4 779.5,611.0 780.2,632.6 780.9,610.8 781.6,632.4 782.3,611.3 783.0,629.2 783.7,608.5 784.4,627.0 785.1,606.7 785.8,628.7 786.5,609.5 787.2,630.6 787.9,606.4 788.6,627.4 789.3,612.5 790.0,631.5 790.7,615.5 791.4,630.2 792.1,610.4 792.8,638.8 793.5,616.4 794.2,639.6 794.9,617.5 795.6,634.5 796.3,621.2 797.0,640.1 797.7,618.7 798.4,642.8 799.1,620.3 799.8,639.2 800.5,620.2 801.2,646.7 801.9,621.7 802.6,642.3 803.3,619.6 804.0,642.9 804.7,625.9 805.4,646.4 806.1,623.1 806.8,648.3 807.5,626.1 808.2,646.5 808.9,625.4 809.6,649.4 810.3,625.0 811.0,651.4 811.7,629.6 812.4,649.1 813.1,628.0 813.8,647.4 814.5,624.4 815.2,651.9 815.9,626.1 816.6,648.0 817.3,627.8 818.0,652.5 818.7,628.8 819.4,646.8 820.1,629.2 820.8,650.9 821.5,629.9 822.2,651.0 822.9,632.6 823.6,653.2 824.3,631.8 825.0,655.7 825.7,632.4 826.4,652.1 827.1,631.6 827.8,652.2 828.5,631.0 829.2,658.1 829.9,630.5 830.6,655.7 831.3,631.6 832.0,656.0 832.7,633.5 833.4,651.0 834.1,631.7 834.8,651.9 835.5,631.1 836.2,657.0 836.9,634.7 837.6,653.1 838.3,632.5 839.0,655.5 839.7,630.3 840.4,654.7 841.1,633.8 841.8,656.0 842.5,636.2 843.2,659.7 843.9,634.2 844.6,653.9 845.3,634.3 846.0,657.5 846.7,634.1 847.4,654.4 848.1,637.2 848.8,655.4 849.5,636.7 850.2,655.6 850.9,633.5 851.6,657.1 852.3,633.8 853.0,656.6 853.7,635.8 854.4,655.9 855.1,631.1 855.8,656.9 856.5,632.8 857.2,658.7 857.9,635.8 858.6,658.1 859.3,634.8 860.0,656.6 860.7,639.6 861.4,655.8 862.1,634.3 862.8,655.0 863.5,637.1 864.2,658.2 864.9,636.4 865.6,655.6 866.3,637.4 867.0,654.4 867.7,637.8 868.4,657.5 869.1,633.8 869.8,657.0 870.5,635.2 871.2,658.3 871.9,633.8 872.6,658.5 873.3,630.7 874.0,656.8 874.7,635.1 875.4,657.1 876.1,634.5 876.8,655.5 877.5,636.1 878.2,658.3 878.9,637.9 879.6,660.4 880.3,637.5 881.0,660.3 881.7,634.8 882.4,659.4 883.1,633.8 883.8,656.7 884.5,632.6 885.2,658.1 885.9,630.1 886.6,659.5 887.3,636.4 888.0,656.0 888.7,636.8 889.4,654.8 890.1,633.0 890.8,654.6 891.5,633.8 892.2,658.0 892.9,634.9 893.6,660.2 894.3,633.3 895.0,655.3 895.7,632.4 896.4,658.2 897.1,637.9 897.8,656.2 898.5,633.0 899.2,656.3 899.9,636.4 900.6,657.7 901.3,636.4 902.0,654.6 902.7,633.8 903.4,657.6 904.1,634.4 904.8,660.9 905.5,636.6 906.2,657.3 906.9,636.6 907.6,657.5 908.3,635.5 909.0,655.6 909.7,634.3 910.4,655.2 911.1,630.8 911.8,654.9 912.5,631.1 913.2,655.0 913.9,636.4 914.6,653.6 915.3,630.1 916.0,657.4 916.7,634.4 917.4,653.7 918.1,630.0 918.8,651.5 919.5,628.7 920.2,653.5 920.9,629.2 921.6,651.2 922.3,628.9 923.0,645.9 923.7,631.2 924.4,650.2 925.1,633.5 925.8,653.1 926.5,628.0 927.2,651.7 927.9,629.4 928.6,656.0 929.3,629.5 930.0,656.2 930.7,634.1 931.4,657.5 932.1,635.6 932.8,652.3 933.5,635.6 934.2,654.4 934.9,632.3 935.6,653.4 936.3,636.2 937.0,657.8 937.7,635.0 938.4,658.7 939.1,637.7 939.8,653.7 940.5,636.5 941.2,660.7 941.9,632.7 942.6,657.1 943.3,636.9 944.0,654.4 944.7,638.6 945.4,655.8 946.1,636.9 946.8,654.9 947.5,635.9 948.2,656.8 948.9,634.1 949.6,659.9 950.3,635.6 951.0,657.9 951.7,636.3 952.4,661.6 953.1,640.5 953.8,660.9 954.5,634.6 955.2,662.5 955.9,639.3 956.6,659.1 957.3,636.7 958.0,659.7 958.7,637.0 959.4,659.8 960.1,639.3 960.8,660.7 961.5,637.1 962.2,660.3 962.9,637.5 963.6,659.7 964.3,638.1 965.0,660.9 965.7,632.2 966.4,659.1 967.1,635.3 967.8,663.4 968.5,635.5 969.2,657.9 969.9,642.6 970.6,660.0 971.3,640.0 972.0,662.2 972.7,637.3 973.4,661.8 974.1,637.9 974.8,659.4 975.5,637.5 976.2,661.6 976.9,635.9 977.6,661.3 978.3,641.2 979.0,658.3 979.7,640.3 980.4,659.1 981.1,640.1 981.8,658.8 982.5,635.7 983.2,663.0 983.9,640.2 984.6,661.3 985.3,641.2 986.0,659.9 986.7,640.5 987.4,661.6 988.1,637.7 988.8,661.0 989.5,640.2 990.2,660.0 990.9,638.3 991.6,662.9 992.3,637.3 993.0,661.9 993.7,640.4 994.4,659.8 995.1,635.4 995.8,661.9 996.5,639.5 997.2,660.7 997.9,639.1 998.6,661.9 999.3,638.2 1000.0,658.5 1000.7,634.5 1001.4,658.8 1002.1,636.9 1002.8,661.6 1003.5,641.8 1004.2,659.3 1004.9,639.4 1005.6,658.5 1006.3,640.9" fill="none" stroke="#ff0000" stroke-width="2.6" stroke-linejoin="round" stroke-linecap="round"/>
<polyline points="202.0,628.9 203.4,629.0 204.8,629.1 206.2,629.1 207.6,629.2 209.0,629.3 210.4,629.3 211.8,629.4 213.2,629.4 214.6,629.5 216.0,629.5 217.4,629.6 218.8,629.6 220.2,629.7 221.6,629.7 223.0,629.7 224.4,629.7 225.8,629.7 227.2,629.6 228.6,629.5 230.0,629.4 231.4,629.1 232.8,628.6 234.2,627.6 235.6,625.7 237.0,622.2 238.4,617.6 239.8,618.2 241.2,623.0 242.6,626.4 244.0,628.3 245.4,629.3 246.8,629.9 248.2,630.3 249.6,630.6 251.0,630.8 252.4,631.0 253.8,631.2 255.2,631.3 256.6,631.4 258.0,631.5 259.4,631.6 260.8,631.7 262.2,631.8 263.6,631.9 265.0,632.0 266.4,632.1 267.8,632.2 269.2,632.3 270.6,632.3 272.0,632.4 273.4,632.5 274.8,632.6 276.2,632.7 277.6,632.8 279.0,632.8 280.4,632.9 281.8,633.0 283.2,633.1 284.6,633.2 286.0,633.2 287.4,633.3 288.8,633.4 290.2,633.5 291.6,633.6 293.0,633.6 294.4,633.7 295.8,633.8 297.2,633.9 298.6,633.9 300.0,634.0 301.4,634.1 302.8,634.2 304.2,634.2 305.6,634.3 307.0,634.4 308.4,634.5 309.8,634.6 311.2,634.6 312.6,634.7 314.0,634.8 315.4,634.9 316.8,634.9 318.2,635.0 319.6,635.1 321.0,635.1 322.4,635.2 323.8,635.3 325.2,635.4 326.6,635.4 328.0,635.5 329.4,635.6 330.8,635.5 332.2,635.4 333.6,635.3 335.0,635.2 336.4,635.1 337.8,634.9 339.2,634.8 340.6,634.7 342.0,634.6 343.4,634.4 344.8,634.3 346.2,634.2 347.6,634.1 349.0,633.9 350.4,633.8 351.8,633.7 353.2,633.5 354.6,633.4 356.0,633.3 357.4,633.1 358.8,633.0 360.2,632.8 361.6,632.7 363.0,632.5 364.4,632.4 365.8,632.2 367.2,632.0 368.6,631.8 370.0,631.6 371.4,631.4 372.8,631.2 374.2,630.8 375.6,630.4 377.0,629.9 378.4,629.1 379.8,627.9 381.2,625.3 382.6,620.1 384.0,610.0 385.4,605.6 386.8,615.4 388.2,621.8 389.6,624.4 391.0,625.5 392.4,625.9 393.8,626.0 395.2,625.9 396.6,625.7 398.0,625.4 399.4,625.1 400.8,624.7 402.2,624.3 403.6,623.9 405.0,623.5 406.4,623.1 407.8,622.6 409.2,622.2 410.6,621.7 412.0,621.2 413.4,620.7 414.8,620.2 416.2,619.6 417.6,619.1 419.0,618.5 420.4,617.8 421.8,616.9 423.2,616.0 424.6,615.1 426.0,614.1 427.4,613.0 428.8,611.9 430.2,610.7 431.6,609.4 433.0,608.0 434.4,606.4 435.8,604.7 437.2,602.8 438.6,600.7 440.0,598.2 441.4,595.8 442.8,592.8 444.2,589.1 445.6,584.0 447.0,576.5 448.4,563.6 449.8,541.5 451.2,527.1 452.6,544.7 454.0,561.2 455.4,569.9 456.8,575.2 458.2,579.2 459.6,582.6 461.0,585.8 462.4,588.6 463.8,591.2 465.2,593.6 466.6,596.4 468.0,598.9 469.4,601.2 470.8,603.3 472.2,605.2 473.6,606.9 475.0,608.5 476.4,610.0 477.8,611.4 479.2,612.7 480.6,613.9 482.0,615.1 483.4,616.2 484.8,617.3 486.2,618.2 487.6,619.1 489.0,619.9 490.4,620.7 491.8,621.5 493.2,622.2 494.6,622.9 496.0,623.7 497.4,624.4 498.8,625.0 500.2,625.7 501.6,626.4 503.0,627.0 504.4,627.7 505.8,628.3 507.2,628.9 508.6,629.6 510.0,630.2 511.4,630.8 512.8,631.4 514.2,632.0 515.6,632.5 517.0,633.1 518.4,633.7 519.8,634.2 521.2,634.4 522.6,634.4 524.0,634.5 525.4,634.5 526.8,634.5 528.2,634.5 529.6,634.3 531.0,634.2 532.4,633.9 533.8,633.5 535.2,632.8 536.6,631.9 538.0,630.6 539.4,628.8 540.8,626.8 542.2,625.3 543.6,625.3 545.0,626.9 546.4,629.1 547.8,631.2 549.2,632.8 550.6,634.1 552.0,635.0 553.4,635.7 554.8,636.2 556.2,636.7 557.6,637.0 559.0,637.3 560.4,637.6 561.8,637.8 563.2,638.0 564.6,638.2 566.0,638.4 567.4,638.6 568.8,638.8 570.2,638.9 571.6,639.1 573.0,639.2 574.4,639.3 575.8,639.5 577.2,639.6 578.6,639.7 580.0,639.9 581.4,640.0 582.8,640.1 584.2,640.2 585.6,640.4 587.0,640.5 588.4,640.6 589.8,640.7 591.2,640.8 592.6,640.9 594.0,641.1 595.4,641.2 596.8,641.3 598.2,641.4 599.6,641.5 601.0,641.5 602.4,641.5 603.8,641.5 605.2,641.5 606.6,641.5 608.0,641.5 609.4,641.5 610.8,641.5 612.2,641.4 613.6,641.4 615.0,641.4 616.4,641.4 617.8,641.4 619.2,641.4 620.6,641.4 622.0,641.4 623.4,641.3 624.8,641.3 626.2,641.3 627.6,641.3 629.0,641.3 630.4,641.3 631.8,641.2 633.2,641.2 634.6,641.2 636.0,641.2 637.4,641.2 638.8,641.2 640.2,641.1 641.6,641.1 643.0,641.1 644.4,641.1 645.8,641.1 647.2,641.0 648.6,641.0 650.0,641.0 651.4,641.0 652.8,641.0 654.2,640.9 655.6,640.9 657.0,640.9 658.4,640.8 659.8,640.8 661.2,640.8 662.6,640.8 664.0,640.7 665.4,640.7 666.8,640.7 668.2,640.6 669.6,640.6 671.0,640.5 672.4,640.5 673.8,640.4 675.2,640.4 676.6,640.3 678.0,640.3 679.4,640.2 680.8,640.1 682.2,640.1 683.6,640.0 685.0,639.9 686.4,639.8 687.8,639.6 689.2,639.5 690.6,639.3 692.0,639.1 693.4,638.9 694.8,638.7 696.2,638.4 697.6,638.0 699.0,637.5 700.4,636.9 701.8,636.2 703.2,635.2 704.6,634.0 706.0,632.5 707.4,630.8 708.8,628.8 710.2,626.8 711.6,625.2 713.0,624.5 714.4,625.0 715.8,626.3 717.2,628.1 718.6,629.9 720.0,631.4 721.4,632.6 722.8,633.6 724.2,634.3 725.6,634.9 727.0,635.3 728.4,635.6 729.8,635.8 731.2,636.0 732.6,636.0 734.0,636.1 735.4,636.1 736.8,636.1 738.2,636.1 739.6,636.0 741.0,635.9 742.4,635.8 743.8,635.7 745.2,635.6 746.6,635.4 748.0,635.2 749.4,635.1 750.8,634.8 752.2,634.6 753.6,634.4 755.0,634.1 756.4,633.8 757.8,633.5 759.2,633.1 760.6,632.8 762.0,632.5 763.4,632.2 764.8,631.8 766.2,631.3 767.6,630.8 769.0,630.2 770.4,629.4 771.8,628.5 773.2,627.5 774.6,626.4 776.0,625.1 777.4,623.8 778.8,622.4 780.2,621.0 781.6,619.9 783.0,619.0 784.4,618.7 785.8,618.8 787.2,619.5 788.6,620.6 790.0,622.0 791.4,623.6 792.8,625.2 794.2,626.8 795.6,628.3 797.0,629.6 798.4,630.8 799.8,631.9 801.2,632.9 802.6,633.8 804.0,634.6 805.4,635.3 806.8,636.0 808.2,636.6 809.6,637.1 811.0,637.6 812.4,638.1 813.8,638.5 815.2,638.9 816.6,639.3 818.0,639.7 819.4,640.0 820.8,640.3 822.2,640.6 823.6,640.9 825.0,641.2 826.4,641.5 827.8,641.7 829.2,642.0 830.6,642.2 832.0,642.5 833.4,642.7 834.8,642.9 836.2,643.2 837.6,643.4 839.0,643.6 840.4,643.8 841.8,644.0 843.2,644.2 844.6,644.4 846.0,644.6 847.4,644.8 848.8,645.0 850.2,645.2 851.6,645.2 853.0,645.3 854.4,645.4 855.8,645.4 857.2,645.5 858.6,645.5 860.0,645.6 861.4,645.6 862.8,645.7 864.2,645.7 865.6,645.7 867.0,645.8 868.4,645.8 869.8,645.9 871.2,645.9 872.6,645.9 874.0,646.0 875.4,646.0 876.8,646.1 878.2,646.1 879.6,646.1 881.0,646.1 882.4,646.2 883.8,646.2 885.2,646.2 886.6,646.2 888.0,646.3 889.4,646.3 890.8,646.3 892.2,646.3 893.6,646.3 895.0,646.3 896.4,646.3 897.8,646.2 899.2,646.2 900.6,646.2 902.0,646.1 903.4,646.0 904.8,645.9 906.2,645.8 907.6,645.7 909.0,645.5 910.4,645.2 911.8,644.9 913.2,644.5 914.6,644.0 916.0,643.4 917.4,642.7 918.8,641.9 920.2,641.0 921.6,640.3 923.0,639.8 924.4,639.7 925.8,640.1 927.2,640.9 928.6,641.8 930.0,642.7 931.4,643.6 932.8,644.3 934.2,644.9 935.6,645.4 937.0,645.8 938.4,646.2 939.8,646.5 941.2,646.7 942.6,646.9 944.0,647.1 945.4,647.3 946.8,647.4 948.2,647.5 949.6,647.6 951.0,647.7 952.4,647.8 953.8,647.9 955.2,648.0 956.6,648.1 958.0,648.2 959.4,648.2 960.8,648.3 962.2,648.3 963.6,648.4 965.0,648.5 966.4,648.5 967.8,648.6 969.2,648.6 970.6,648.7 972.0,648.7 973.4,648.8 974.8,648.8 976.2,648.9 977.6,648.9 979.0,649.0 980.4,649.0 981.8,649.0 983.2,649.1 984.6,649.1 986.0,649.2 987.4,649.2 988.8,649.3 990.2,649.3 991.6,649.3 993.0,649.4 994.4,649.4 995.8,649.5 997.2,649.5 998.6,649.5 1000.0,649.6 1001.4,649.6 1002.8,649.7 1004.2,649.7 1005.6,649.7" fill="none" stroke="#ff0000" stroke-width="5.5" stroke-linejoin="round" stroke-linecap="round"/>
<polyline points="202.0,517.5 202.7,502.0 203.4,523.1 204.1,503.6 204.8,521.2 205.5,499.7 206.2,518.7 206.9,504.7 207.6,518.0 208.3,503.5 209.0,521.2 209.7,506.1 210.4,522.2 211.1,500.6 211.8,521.7 212.5,501.7 213.2,524.1 213.9,502.2 214.6,520.2 215.3,503.0 216.0,520.2 216.7,500.6 217.4,523.1 218.1,501.3 218.8,521.0 219.5,500.6 220.2,521.1 220.9,502.5 221.6,517.4 222.3,504.0 223.0,519.9 223.7,501.8 224.4,523.4 225.1,501.9 225.8,522.5 226.5,504.1 227.2,520.1 227.9,502.1 228.6,520.8 229.3,504.6 230.0,525.1 230.7,500.7 231.4,521.5 232.1,498.9 232.8,519.2 233.5,501.3 234.2,518.7 234.9,498.0 235.6,513.4 236.3,495.8 237.0,511.9 237.7,488.3 238.4,504.4 239.1,480.9 239.8,503.2 240.5,483.9 241.2,512.4 241.9,494.3 242.6,517.5 243.3,498.7 244.0,519.2 244.7,502.3 245.4,522.2 246.1,506.0 246.8,518.2 247.5,500.2 248.2,522.2 248.9,502.8 249.6,522.1 250.3,504.5 251.0,523.5 251.7,507.8 252.4,525.5 253.1,504.5 253.8,525.9 254.5,507.7 255.2,526.5 255.9,508.4 256.6,526.8 257.3,505.3 258.0,523.1 258.7,505.5 259.4,526.2 260.1,504.7 260.8,522.6 261.5,508.4 262.2,521.2 262.9,504.0 263.6,522.5 264.3,507.9 265.0,528.9 265.7,504.8 266.4,525.4 267.1,507.5 267.8,524.4 268.5,508.0 269.2,525.1 269.9,509.4 270.6,523.9 271.3,507.4 272.0,524.7 272.7,505.2 273.4,525.2 274.1,507.6 274.8,527.8 275.5,502.4 276.2,524.7 276.9,508.5 277.6,524.4 278.3,503.9 279.0,524.2 279.7,505.9 280.4,524.6 281.1,505.7 281.8,527.6 282.5,504.8 283.2,527.7 283.9,507.8 284.6,527.6 285.3,508.6 286.0,522.2 286.7,507.4 287.4,526.7 288.1,506.5 288.8,527.2 289.5,505.4 290.2,528.5 290.9,503.5 291.6,528.9 292.3,508.7 293.0,527.5 293.7,508.0 294.4,528.7 295.1,510.3 295.8,530.2 296.5,506.8 297.2,526.0 297.9,508.5 298.6,524.9 299.3,507.1 300.0,523.5 300.7,508.6 301.4,529.7 302.1,507.3 302.8,523.9 303.5,509.7 304.2,524.2 304.9,504.9 305.6,524.4 306.3,506.4 307.0,529.5 307.7,509.0 308.4,528.7 309.1,508.8 309.8,529.1 310.5,508.4 311.2,524.4 311.9,506.5 312.6,528.2 313.3,506.8 314.0,529.6 314.7,509.5 315.4,525.6 316.1,509.0 316.8,526.2 317.5,506.6 318.2,526.5 318.9,506.2 319.6,527.3 320.3,509.3 321.0,523.7 321.7,509.6 322.4,524.2 323.1,507.2 323.8,528.8 324.5,508.2 325.2,528.4 325.9,506.3 326.6,528.6 327.3,504.4 328.0,527.0 328.7,503.4 329.4,525.7 330.1,510.2 330.8,525.0 331.5,505.8 332.2,527.8 332.9,512.6 333.6,528.8 334.3,504.0 335.0,528.0 335.7,505.1 336.4,529.2 337.1,510.6 337.8,525.8 338.5,505.6 339.2,523.1 339.9,504.0 340.6,525.4 341.3,519.3 342.0,527.1 342.7,506.8 343.4,525.0 344.1,508.0 344.8,525.9 345.5,506.4 346.2,523.7 346.9,503.1 347.6,524.1 348.3,505.5 349.0,528.1 349.7,506.6 350.4,526.6 351.1,504.7 351.8,522.8 352.5,506.0 353.2,525.7 353.9,501.0 354.6,524.8 355.3,506.7 356.0,523.0 356.7,506.4 357.4,525.4 358.1,502.6 358.8,525.4 359.5,505.6 360.2,523.0 360.9,504.5 361.6,523.1 362.3,503.8 363.0,518.0 363.7,505.2 364.4,520.1 365.1,505.2 365.8,518.9 366.5,503.3 367.2,523.1 367.9,501.2 368.6,521.3 369.3,500.4 370.0,518.4 370.7,497.6 371.4,518.7 372.1,496.7 372.8,514.8 373.5,497.3 374.2,517.0 374.9,498.6 375.6,512.2 376.3,495.3 377.0,511.1 377.7,493.0 378.4,511.1 379.1,490.1 379.8,503.7 380.5,480.3 381.2,494.1 381.9,469.4 382.6,480.2 383.3,449.6 384.0,452.9 384.7,425.6 385.4,444.2 386.1,436.4 386.8,467.4 387.5,463.9 388.2,489.6 388.9,474.6 389.6,498.9 390.3,481.3 391.0,502.0 391.7,487.5 392.4,508.1 393.1,484.9 393.8,510.5 394.5,485.2 395.2,507.0 395.9,490.5 396.6,511.2 397.3,491.2 398.0,511.2 398.7,491.3 399.4,511.6 400.1,492.8 400.8,513.1 401.5,495.0 402.2,512.9 402.9,490.6 403.6,514.7 404.3,494.1 405.0,522.9 405.7,495.6 406.4,516.5 407.1,496.1 407.8,511.9 408.5,498.3 409.2,512.5 409.9,496.3 410.6,515.9 411.3,490.4 412.0,512.3 412.7,494.0 413.4,516.6 414.1,492.2 414.8,513.7 415.5,489.4 416.2,511.0 416.9,491.7 417.6,512.3 418.3,493.0 419.0,513.6 419.7,491.5 420.4,511.8 421.1,492.2 421.8,510.7 422.5,487.5 423.2,508.5 423.9,491.6 424.6,508.6 425.3,488.1 426.0,507.7 426.7,485.5 427.4,505.5 428.1,488.9 428.8,502.6 429.5,485.5 430.2,505.6 430.9,484.7 431.6,503.6 432.3,480.8 433.0,501.0 433.7,480.3 434.4,502.4 435.1,481.2 435.8,498.1 436.5,478.6 437.2,493.5 437.9,473.0 438.6,490.1 439.3,470.7 440.0,487.1 440.7,466.1 441.4,483.0 442.1,463.5 442.8,480.7 443.5,459.6 444.2,473.9 444.9,449.3 445.6,461.0 446.3,434.9 447.0,446.5 447.7,411.8 448.4,411.6 449.1,370.9 449.8,364.6 450.5,322.0 451.2,334.7 451.9,333.0 452.6,377.4 453.3,385.3 454.0,425.0 454.7,418.4 455.4,450.8 456.1,437.1 456.8,465.0 457.5,450.1 458.2,474.9 458.9,454.2 459.6,481.9 460.3,461.9 461.0,481.3 461.7,466.5 462.4,485.9 463.1,473.1 463.8,491.9 464.5,470.6 465.2,493.7 465.9,476.4 466.6,494.9 467.3,476.0 468.0,499.4 468.7,479.5 469.4,497.6 470.1,482.6 470.8,498.8 471.5,479.9 472.2,498.8 472.9,486.3 473.6,507.0 474.3,488.2 475.0,508.4 475.7,485.2 476.4,507.2 477.1,488.0 477.8,510.7 478.5,490.0 479.2,508.8 479.9,492.0 480.6,511.1 481.3,492.5 482.0,511.2 482.7,491.1 483.4,513.4 484.1,493.8 484.8,513.4 485.5,491.9 486.2,511.5 486.9,497.5 487.6,509.0 488.3,494.5 489.0,515.3 489.7,493.8 490.4,512.8 491.1,495.0 491.8,515.9 492.5,495.9 493.2,515.6 493.9,496.7 494.6,515.4 495.3,495.9 496.0,514.3 496.7,497.4 497.4,515.5 498.1,496.4 498.8,515.5 499.5,497.1 500.2,515.4 500.9,496.4 501.6,515.5 502.3,500.0 503.0,516.3 503.7,498.5 504.4,520.6 505.1,496.4 505.8,517.1 506.5,500.8 507.2,521.5 507.9,497.2 508.6,520.9 509.3,502.2 510.0,520.2 510.7,501.0 511.4,519.4 512.1,501.8 512.8,519.8 513.5,504.8 514.2,519.5 514.9,500.1 515.6,517.4 516.3,502.6 517.0,523.8 517.7,505.4 518.4,519.7 519.1,500.2 519.8,525.4 520.5,503.6 521.2,522.9 521.9,504.1 522.6,521.2 523.3,500.3 524.0,521.2 524.7,501.0 525.4,522.5 526.1,504.8 526.8,521.3 527.5,502.5 528.2,522.4 528.9,503.1 529.6,520.4 530.3,499.2 531.0,517.1 531.7,502.8 532.4,520.7 533.1,497.6 533.8,516.9 534.5,497.2 535.2,517.4 535.9,495.8 536.6,516.9 537.3,494.5 538.0,516.2 538.7,491.7 539.4,513.3 540.1,489.7 540.8,504.9 541.5,483.0 542.2,498.2 542.9,476.1 543.6,495.5 544.3,479.6 545.0,503.0 545.7,477.4 546.4,509.3 547.1,493.1 547.8,516.4 548.5,495.4 549.2,517.0 549.9,499.4 550.6,517.6 551.3,500.7 552.0,520.5 552.7,500.0 553.4,520.5 554.1,502.0 554.8,520.6 555.5,505.1 556.2,525.0 556.9,503.9 557.6,522.3 558.3,505.2 559.0,522.7 559.7,505.3 560.4,527.4 561.1,509.3 561.8,523.7 562.5,506.7 563.2,527.6 563.9,507.9 564.6,525.5 565.3,506.6 566.0,526.9 566.7,507.7 567.4,529.2 568.1,509.3 568.8,527.3 569.5,507.8 570.2,528.4 570.9,507.9 571.6,527.3 572.3,510.2 573.0,529.7 573.7,508.1 574.4,528.6 575.1,506.3 575.8,527.0 576.5,508.4 577.2,527.4 577.9,507.2 578.6,527.8 579.3,509.4 580.0,529.0 580.7,509.3 581.4,531.1 582.1,509.3 582.8,527.7 583.5,507.1 584.2,530.6 584.9,510.8 585.6,529.8 586.3,506.1 587.0,529.4 587.7,511.9 588.4,527.4 589.1,509.2 589.8,528.2 590.5,507.3 591.2,530.9 591.9,514.2 592.6,529.4 593.3,514.0 594.0,533.8 594.7,510.8 595.4,528.2 596.1,510.2 596.8,530.9 597.5,513.8 598.2,534.1 598.9,511.6 599.6,530.0 600.3,513.5 601.0,531.0 601.7,513.4 602.4,531.7 603.1,508.2 603.8,531.4 604.5,509.7 605.2,533.8 605.9,513.8 606.6,532.5 607.3,514.2 608.0,531.2 608.7,509.5 609.4,529.2 610.1,513.3 610.8,533.3 611.5,510.0 612.2,531.1 612.9,511.1 613.6,527.5 614.3,513.4 615.0,532.3 615.7,511.3 616.4,533.6 617.1,512.1 617.8,532.2 618.5,511.6 619.2,529.1 619.9,512.1 620.6,530.5 621.3,512.3 622.0,530.8 622.7,512.7 623.4,533.2 624.1,509.4 624.8,528.3 625.5,512.5 626.2,534.3 626.9,511.4 627.6,530.5 628.3,509.2 629.0,533.5 629.7,509.4 630.4,533.0 631.1,512.4 631.8,530.1 632.5,510.5 633.2,535.6 633.9,508.1 634.6,530.4 635.3,510.1 636.0,533.8 636.7,511.4 637.4,533.8 638.1,512.4 638.8,527.6 639.5,509.3 640.2,531.4 640.9,511.0 641.6,533.1 642.3,514.0 643.0,532.4 643.7,508.6 644.4,531.0 645.1,511.9 645.8,529.2 646.5,511.9 647.2,531.9 647.9,510.6 648.6,530.5 649.3,512.0 650.0,530.1 650.7,508.9 651.4,529.7 652.1,512.7 652.8,528.7 653.5,512.7 654.2,529.5 654.9,507.9 655.6,531.2 656.3,511.5 657.0,531.9 657.7,512.6 658.4,532.8 659.1,510.0 659.8,530.0 660.5,511.3 661.2,533.2 661.9,511.7 662.6,531.4 663.3,512.0 664.0,528.5 664.7,509.5 665.4,525.4 666.1,509.3 666.8,528.6 667.5,507.8 668.2,528.7 668.9,507.0 669.6,525.7 670.3,502.8 671.0,521.7 671.7,503.4 672.4,522.5 673.1,504.3 673.8,525.3 674.5,505.9 675.2,530.0 675.9,508.7 676.6,526.9 677.3,508.0 678.0,524.7 678.7,512.7 679.4,530.1 680.1,508.6 680.8,527.3 681.5,510.5 682.2,529.4 682.9,511.8 683.6,530.6 684.3,509.5 685.0,531.5 685.7,510.7 686.4,529.9 687.1,509.3 687.8,526.7 688.5,512.7 689.2,530.8 689.9,506.0 690.6,527.7 691.3,511.2 692.0,529.2 692.7,509.5 693.4,527.0 694.1,510.5 694.8,529.8 695.5,508.1 696.2,528.4 696.9,506.5 697.6,529.5 698.3,508.5 699.0,524.9 699.7,508.8 700.4,524.9 701.1,507.5 701.8,524.3 702.5,506.1 703.2,523.8 703.9,502.9 704.6,522.3 705.3,502.9 706.0,522.4 706.7,498.7 707.4,516.4 708.1,497.9 708.8,513.5 709.5,494.6 710.2,506.4 710.9,478.0 711.6,495.1 712.3,465.6 713.0,481.1 713.7,463.3 714.4,492.8 715.1,480.5 715.8,506.5 716.5,489.5 717.2,511.4 717.9,496.4 718.6,518.0 719.3,502.2 720.0,516.9 720.7,501.5 721.4,520.8 722.1,500.4 722.8,521.2 723.5,497.9 724.2,524.0 724.9,506.0 725.6,525.0 726.3,506.0 727.0,522.5 727.7,508.0 728.4,521.4 729.1,506.1 729.8,525.7 730.5,505.3 731.2,524.9 731.9,509.4 732.6,525.1 733.3,506.7 734.0,525.3 734.7,506.1 735.4,527.3 736.1,505.3 736.8,528.4 737.5,507.9 738.2,526.5 738.9,506.5 739.6,526.6 740.3,506.5 741.0,525.9 741.7,515.0 742.4,526.9 743.1,506.0 743.8,529.1 744.5,511.8 745.2,524.3 745.9,506.2 746.6,525.3 747.3,507.7 748.0,529.4 748.7,510.2 749.4,525.1 750.1,507.0 750.8,527.0 751.5,509.3 752.2,527.1 752.9,504.6 753.6,528.1 754.3,504.9 755.0,526.6 755.7,508.7 756.4,526.3 757.1,505.8 757.8,531.4 758.5,504.6 759.2,526.9 759.9,506.1 760.6,525.3 761.3,503.3 762.0,524.7 762.7,505.8 763.4,524.1 764.1,503.6 764.8,520.5 765.5,505.0 766.2,522.1 766.9,505.4 767.6,523.9 768.3,504.4 769.0,522.3 769.7,502.4 770.4,523.0 771.1,504.0 771.8,519.6 772.5,501.1 773.2,522.0 773.9,500.0 774.6,519.1 775.3,498.8 776.0,513.4 776.7,497.0 777.4,515.7 778.1,492.8 778.8,510.5 779.5,482.9 780.2,501.6 780.9,474.1 781.6,485.5 782.3,461.9 783.0,473.9 783.7,459.7 784.4,480.9 785.1,474.1 785.8,498.1 786.5,478.9 787.2,502.7 787.9,485.1 788.6,510.4 789.3,489.9 790.0,510.3 790.7,492.0 791.4,513.0 792.1,492.3 792.8,513.9 793.5,495.9 794.2,516.5 794.9,493.6 795.6,516.4 796.3,504.2 797.0,516.3 797.7,500.7 798.4,519.7 799.1,503.9 799.8,521.5 800.5,503.0 801.2,522.8 801.9,503.9 802.6,525.5 803.3,504.5 804.0,523.5 804.7,507.0 805.4,528.4 806.1,505.8 806.8,528.6 807.5,509.0 808.2,530.7 808.9,509.2 809.6,530.1 810.3,505.9 811.0,529.0 811.7,511.6 812.4,531.9 813.1,508.4 813.8,528.1 814.5,511.7 815.2,529.5 815.9,512.4 816.6,530.1 817.3,510.2 818.0,531.6 818.7,511.6 819.4,530.9 820.1,514.0 820.8,533.0 821.5,516.5 822.2,531.0 822.9,510.3 823.6,530.4 824.3,511.1 825.0,530.6 825.7,513.3 826.4,533.3 827.1,512.3 827.8,535.2 828.5,511.2 829.2,531.5 829.9,515.3 830.6,532.3 831.3,512.5 832.0,530.9 832.7,511.5 833.4,532.8 834.1,515.8 834.8,533.5 835.5,514.7 836.2,534.6 836.9,513.5 837.6,534.3 838.3,516.4 839.0,534.1 839.7,511.8 840.4,534.5 841.1,509.3 841.8,537.4 842.5,513.0 843.2,535.3 843.9,515.9 844.6,535.9 845.3,518.4 846.0,535.5 846.7,513.5 847.4,535.9 848.1,513.6 848.8,536.6 849.5,515.4 850.2,533.0 850.9,514.9 851.6,533.3 852.3,511.0 853.0,534.8 853.7,517.8 854.4,534.8 855.1,516.0 855.8,536.1 856.5,515.8 857.2,530.8 857.9,516.6 858.6,534.4 859.3,517.3 860.0,537.0 860.7,514.8 861.4,534.4 862.1,515.3 862.8,538.3 863.5,516.2 864.2,534.0 864.9,513.6 865.6,536.4 866.3,515.5 867.0,536.7 867.7,516.3 868.4,536.3 869.1,517.6 869.8,535.0 870.5,519.4 871.2,532.7 871.9,518.5 872.6,538.4 873.3,517.8 874.0,536.2 874.7,516.8 875.4,535.9 876.1,515.8 876.8,532.6 877.5,514.1 878.2,535.7 878.9,516.5 879.6,533.2 880.3,519.7 881.0,535.0 881.7,513.6 882.4,533.5 883.1,519.9 883.8,539.6 884.5,515.8 885.2,533.2 885.9,516.0 886.6,535.6 887.3,514.1 888.0,534.0 888.7,515.3 889.4,537.9 890.1,518.8 890.8,533.6 891.5,517.2 892.2,532.6 892.9,513.2 893.6,538.6 894.3,514.3 895.0,535.1 895.7,516.7 896.4,534.6 897.1,514.4 897.8,535.0 898.5,517.8 899.2,535.9 899.9,513.2 900.6,535.6 901.3,512.6 902.0,535.1 902.7,517.4 903.4,534.9 904.1,518.6 904.8,534.6 905.5,513.1 906.2,534.5 906.9,516.1 907.6,537.2 908.3,511.8 909.0,535.7 909.7,513.1 910.4,533.6 911.1,516.6 911.8,535.7 912.5,515.8 913.2,533.1 913.9,512.7 914.6,532.2 915.3,514.1 916.0,531.0 916.7,511.8 917.4,529.5 918.1,512.8 918.8,527.9 919.5,510.8 920.2,529.4 920.9,507.3 921.6,524.3 922.3,504.6 923.0,523.6 923.7,504.3 924.4,526.0 925.1,505.1 925.8,522.0 926.5,507.8 927.2,530.5 927.9,511.0 928.6,529.2 929.3,516.0 930.0,529.9 930.7,511.9 931.4,530.4 932.1,513.8 932.8,535.0 933.5,511.7 934.2,528.7 934.9,513.1 935.6,537.4 936.3,514.3 937.0,534.2 937.7,513.5 938.4,531.1 939.1,516.1 939.8,537.0 940.5,516.3 941.2,533.2 941.9,515.1 942.6,530.2 943.3,516.5 944.0,531.3 944.7,515.7 945.4,532.7 946.1,514.8 946.8,536.5 947.5,519.0 948.2,534.4 948.9,517.4 949.6,536.1 950.3,517.7 951.0,536.7 951.7,520.4 952.4,538.8 953.1,514.6 953.8,537.5 954.5,518.9 955.2,536.8 955.9,516.7 956.6,537.8 957.3,518.0 958.0,536.9 958.7,516.1 959.4,536.6 960.1,515.9 960.8,537.5 961.5,516.0 962.2,538.3 962.9,521.2 963.6,536.5 964.3,517.5 965.0,536.4 965.7,516.2 966.4,538.9 967.1,520.0 967.8,540.5 968.5,518.1 969.2,540.7 969.9,519.3 970.6,537.7 971.3,516.5 972.0,529.4 972.7,520.1 973.4,538.5 974.1,518.0 974.8,539.7 975.5,517.1 976.2,536.2 976.9,515.6 977.6,536.8 978.3,518.5 979.0,539.4 979.7,518.0 980.4,539.8 981.1,518.9 981.8,538.8 982.5,517.8 983.2,535.6 983.9,516.6 984.6,540.0 985.3,516.7 986.0,538.3 986.7,517.9 987.4,538.5 988.1,520.9 988.8,536.6 989.5,518.5 990.2,537.1 990.9,516.1 991.6,539.8 992.3,520.2 993.0,539.3 993.7,520.8 994.4,539.5 995.1,519.5 995.8,539.8 996.5,520.2 997.2,538.2 997.9,521.3 998.6,540.5 999.3,521.8 1000.0,538.8 1000.7,518.9 1001.4,535.3 1002.1,519.9 1002.8,536.2 1003.5,518.6 1004.2,541.3 1004.9,519.4 1005.6,543.7 1006.3,519.7" fill="none" stroke="#0000ff" stroke-width="2.6" stroke-linejoin="round" stroke-linecap="round"/>
<polyline points="202.0,511.0 203.4,511.1 204.8,511.2 206.2,511.3 207.6,511.4 209.0,511.5 210.4,511.6 211.8,511.7 213.2,511.8 214.6,511.9 216.0,512.0 217.4,512.1 218.8,512.1 220.2,512.2 221.6,512.3 223.0,512.3 224.4,512.3 225.8,512.3 227.2,512.3 228.6,512.1 230.0,511.9 231.4,511.5 232.8,510.7 234.2,509.3 235.6,506.5 237.0,501.0 238.4,493.4 239.8,494.4 241.2,502.3 242.6,507.6 244.0,510.4 245.4,511.9 246.8,512.8 248.2,513.5 249.6,513.9 251.0,514.2 252.4,514.5 253.8,514.8 255.2,515.0 256.6,515.1 258.0,515.3 259.4,515.5 260.8,515.6 262.2,515.6 263.6,515.7 265.0,515.8 266.4,515.8 267.8,515.9 269.2,515.9 270.6,516.0 272.0,516.0 273.4,516.1 274.8,516.1 276.2,516.2 277.6,516.2 279.0,516.2 280.4,516.3 281.8,516.3 283.2,516.4 284.6,516.4 286.0,516.4 287.4,516.5 288.8,516.5 290.2,516.5 291.6,516.6 293.0,516.6 294.4,516.7 295.8,516.7 297.2,516.7 298.6,516.8 300.0,516.8 301.4,516.8 302.8,516.9 304.2,516.9 305.6,516.9 307.0,517.0 308.4,517.0 309.8,517.0 311.2,517.0 312.6,517.1 314.0,517.1 315.4,517.1 316.8,517.2 318.2,517.2 319.6,517.2 321.0,517.2 322.4,517.3 323.8,517.3 325.2,517.3 326.6,517.3 328.0,517.3 329.4,517.4 330.8,517.3 332.2,517.2 333.6,517.0 335.0,516.9 336.4,516.7 337.8,516.6 339.2,516.4 340.6,516.3 342.0,516.1 343.4,516.0 344.8,515.8 346.2,515.6 347.6,515.5 349.0,515.3 350.4,515.1 351.8,514.9 353.2,514.7 354.6,514.5 356.0,514.2 357.4,514.0 358.8,513.7 360.2,513.4 361.6,513.1 363.0,512.7 364.4,512.3 365.8,511.9 367.2,511.4 368.6,510.8 370.0,510.1 371.4,509.2 372.8,508.2 374.2,506.9 375.6,505.2 377.0,503.0 378.4,499.8 379.8,495.0 381.2,486.8 382.6,471.3 384.0,444.7 385.4,434.4 386.8,459.2 388.2,478.4 389.6,488.2 391.0,493.6 392.4,497.0 393.8,499.3 395.2,500.9 396.6,502.0 398.0,502.9 399.4,503.4 400.8,503.8 402.2,504.0 403.6,504.2 405.0,504.2 406.4,504.2 407.8,504.1 409.2,503.9 410.6,503.7 412.0,503.5 413.4,503.2 414.8,502.9 416.2,502.6 417.6,502.3 419.0,501.9 420.4,501.3 421.8,500.5 423.2,499.6 424.6,498.7 426.0,497.7 427.4,496.6 428.8,495.5 430.2,494.3 431.6,492.9 433.0,491.5 434.4,489.8 435.8,487.9 437.2,485.6 438.6,482.9 440.0,479.5 441.4,475.8 442.8,470.6 444.2,463.3 445.6,452.3 447.0,434.7 448.4,404.0 449.8,354.4 451.2,327.0 452.6,369.5 454.0,413.8 455.4,439.5 456.8,454.4 458.2,463.8 459.6,470.0 461.0,474.4 462.4,477.8 463.8,481.1 465.2,483.8 466.6,486.2 468.0,488.2 469.4,490.0 470.8,491.6 472.2,493.1 473.6,494.5 475.0,495.8 476.4,497.0 477.8,498.2 479.2,499.3 480.6,500.2 482.0,500.8 483.4,501.4 484.8,502.0 486.2,502.6 487.6,503.1 489.0,503.6 490.4,504.1 491.8,504.6 493.2,505.1 494.6,505.6 496.0,506.0 497.4,506.5 498.8,506.9 500.2,507.4 501.6,507.8 503.0,508.2 504.4,508.7 505.8,509.1 507.2,509.5 508.6,509.9 510.0,510.2 511.4,510.6 512.8,511.0 514.2,511.3 515.6,511.7 517.0,512.0 518.4,512.3 519.8,512.5 521.2,512.5 522.6,512.4 524.0,512.3 525.4,512.1 526.8,511.8 528.2,511.5 529.6,511.1 531.0,510.5 532.4,509.8 533.8,508.9 535.2,507.8 536.6,506.3 538.0,504.1 539.4,500.9 540.8,495.6 542.2,488.4 543.6,487.8 545.0,495.0 546.4,500.9 547.8,504.6 549.2,507.2 550.6,509.0 552.0,510.5 553.4,511.7 554.8,512.6 556.2,513.5 557.6,514.2 559.0,514.8 560.4,515.3 561.8,515.8 563.2,516.2 564.6,516.5 566.0,516.9 567.4,517.2 568.8,517.5 570.2,517.7 571.6,518.0 573.0,518.2 574.4,518.4 575.8,518.6 577.2,518.8 578.6,519.0 580.0,519.2 581.4,519.3 582.8,519.5 584.2,519.7 585.6,519.8 587.0,520.0 588.4,520.2 589.8,520.3 591.2,520.5 592.6,520.6 594.0,520.7 595.4,520.9 596.8,521.0 598.2,521.2 599.6,521.3 601.0,521.4 602.4,521.4 603.8,521.4 605.2,521.4 606.6,521.4 608.0,521.4 609.4,521.4 610.8,521.4 612.2,521.4 613.6,521.4 615.0,521.4 616.4,521.4 617.8,521.5 619.2,521.5 620.6,521.5 622.0,521.5 623.4,521.5 624.8,521.5 626.2,521.5 627.6,521.5 629.0,521.5 630.4,521.4 631.8,521.4 633.2,521.4 634.6,521.4 636.0,521.4 637.4,521.4 638.8,521.4 640.2,521.4 641.6,521.4 643.0,521.4 644.4,521.4 645.8,521.3 647.2,521.3 648.6,521.3 650.0,521.3 651.4,521.2 652.8,521.2 654.2,521.2 655.6,521.1 657.0,521.1 658.4,521.0 659.8,520.9 661.2,520.8 662.6,520.6 664.0,520.3 665.4,519.9 666.8,519.3 668.2,518.1 669.6,515.9 671.0,512.4 672.4,511.3 673.8,514.4 675.2,517.1 676.6,518.6 678.0,519.3 679.4,519.7 680.8,519.9 682.2,520.0 683.6,520.0 685.0,520.0 686.4,519.9 687.8,519.8 689.2,519.6 690.6,519.5 692.0,519.2 693.4,519.0 694.8,518.7 696.2,518.3 697.6,517.8 699.0,517.2 700.4,516.5 701.8,515.5 703.2,514.3 704.6,512.8 706.0,510.8 707.4,508.1 708.8,504.1 710.2,497.1 711.6,483.6 713.0,470.8 714.4,483.5 715.8,496.8 717.2,503.6 718.6,507.5 720.0,510.0 721.4,511.8 722.8,513.1 724.2,514.2 725.6,515.0 727.0,515.6 728.4,516.1 729.8,516.4 731.2,516.7 732.6,517.0 734.0,517.1 735.4,517.2 736.8,517.3 738.2,517.4 739.6,517.4 741.0,517.4 742.4,517.4 743.8,517.3 745.2,517.3 746.6,517.2 748.0,517.1 749.4,517.0 750.8,516.9 752.2,516.7 753.6,516.5 755.0,516.3 756.4,516.1 757.8,515.9 759.2,515.6 760.6,515.4 762.0,515.2 763.4,514.9 764.8,514.6 766.2,514.2 767.6,513.8 769.0,513.2 770.4,512.5 771.8,511.6 773.2,510.5 774.6,509.0 776.0,506.9 777.4,503.9 778.8,499.0 780.2,490.7 781.6,476.8 783.0,466.2 784.4,474.8 785.8,486.7 787.2,493.7 788.6,497.5 790.0,500.1 791.4,502.2 792.8,504.1 794.2,505.9 795.6,507.6 797.0,509.1 798.4,510.5 799.8,511.7 801.2,512.9 802.6,513.9 804.0,514.8 805.4,515.6 806.8,516.4 808.2,517.0 809.6,517.6 811.0,518.1 812.4,518.6 813.8,519.0 815.2,519.4 816.6,519.8 818.0,520.2 819.4,520.5 820.8,520.8 822.2,521.1 823.6,521.3 825.0,521.6 826.4,521.8 827.8,522.1 829.2,522.3 830.6,522.5 832.0,522.7 833.4,523.0 834.8,523.2 836.2,523.4 837.6,523.5 839.0,523.7 840.4,523.9 841.8,524.1 843.2,524.3 844.6,524.4 846.0,524.6 847.4,524.8 848.8,524.9 850.2,525.1 851.6,525.1 853.0,525.2 854.4,525.3 855.8,525.3 857.2,525.4 858.6,525.4 860.0,525.4 861.4,525.5 862.8,525.5 864.2,525.6 865.6,525.6 867.0,525.6 868.4,525.7 869.8,525.7 871.2,525.7 872.6,525.8 874.0,525.8 875.4,525.8 876.8,525.8 878.2,525.9 879.6,525.9 881.0,525.9 882.4,525.9 883.8,525.9 885.2,525.9 886.6,525.9 888.0,525.9 889.4,525.9 890.8,525.9 892.2,525.9 893.6,525.8 895.0,525.8 896.4,525.7 897.8,525.7 899.2,525.6 900.6,525.5 902.0,525.4 903.4,525.3 904.8,525.2 906.2,525.0 907.6,524.8 909.0,524.5 910.4,524.3 911.8,523.9 913.2,523.5 914.6,523.0 916.0,522.4 917.4,521.7 918.8,520.6 920.2,519.1 921.6,516.6 923.0,513.7 924.4,512.9 925.8,515.4 927.2,518.3 928.6,520.3 930.0,521.6 931.4,522.5 932.8,523.3 934.2,523.9 935.6,524.4 937.0,524.8 938.4,525.2 939.8,525.5 941.2,525.8 942.6,526.1 944.0,526.3 945.4,526.5 946.8,526.7 948.2,526.9 949.6,527.1 951.0,527.2 952.4,527.3 953.8,527.5 955.2,527.6 956.6,527.7 958.0,527.8 959.4,527.9 960.8,527.9 962.2,528.0 963.6,528.1 965.0,528.2 966.4,528.3 967.8,528.3 969.2,528.4 970.6,528.4 972.0,528.5 973.4,528.6 974.8,528.6 976.2,528.7 977.6,528.7 979.0,528.8 980.4,528.8 981.8,528.9 983.2,528.9 984.6,529.0 986.0,529.0 987.4,529.1 988.8,529.1 990.2,529.2 991.6,529.2 993.0,529.3 994.4,529.3 995.8,529.4 997.2,529.4 998.6,529.4 1000.0,529.5 1001.4,529.5 1002.8,529.6 1004.2,529.6 1005.6,529.7" fill="none" stroke="#0000ff" stroke-width="5.5" stroke-linejoin="round" stroke-linecap="round"/>
<polyline points="202.0,400.1 202.7,378.7 203.4,398.0 204.1,378.1 204.8,398.2 205.5,379.8 206.2,400.7 206.9,382.0 207.6,399.4 208.3,383.9 209.0,400.6 209.7,382.2 210.4,398.1 211.1,377.4 211.8,398.7 212.5,380.8 213.2,396.3 213.9,382.0 214.6,398.1 215.3,382.4 216.0,399.9 216.7,382.0 217.4,399.3 218.1,380.6 218.8,400.4 219.5,379.6 220.2,399.6 220.9,379.5 221.6,395.4 222.3,380.9 223.0,396.8 223.7,382.8 224.4,398.2 225.1,378.0 225.8,396.6 226.5,376.9 227.2,396.9 227.9,377.7 228.6,398.1 229.3,381.3 230.0,400.0 230.7,375.8 231.4,397.7 232.1,378.8 232.8,395.1 233.5,372.1 234.2,392.5 234.9,366.8 235.6,382.1 236.3,360.3 237.0,374.2 237.7,342.5 238.4,353.7 239.1,332.4 239.8,357.2 240.5,354.7 241.2,373.8 241.9,362.0 242.6,384.0 243.3,370.9 244.0,389.2 244.7,379.6 245.4,395.5 246.1,375.4 246.8,397.4 247.5,379.0 248.2,396.5 248.9,378.8 249.6,400.6 250.3,380.0 251.0,398.2 251.7,379.3 252.4,399.2 253.1,380.5 253.8,401.3 254.5,383.1 255.2,399.9 255.9,379.8 256.6,399.9 257.3,378.6 258.0,401.6 258.7,382.7 259.4,401.1 260.1,383.8 260.8,401.3 261.5,383.4 262.2,401.6 262.9,384.6 263.6,400.2 264.3,381.8 265.0,401.4 265.7,384.8 266.4,402.7 267.1,383.5 267.8,400.4 268.5,382.7 269.2,400.3 269.9,382.7 270.6,402.4 271.3,382.4 272.0,401.3 272.7,382.6 273.4,403.5 274.1,382.9 274.8,405.8 275.5,385.8 276.2,400.3 276.9,385.0 277.6,402.3 278.3,382.4 279.0,401.4 279.7,385.9 280.4,399.4 281.1,384.1 281.8,401.5 282.5,383.7 283.2,402.1 283.9,384.1 284.6,402.5 285.3,383.7 286.0,402.7 286.7,381.9 287.4,402.9 288.1,382.0 288.8,400.3 289.5,385.1 290.2,399.5 290.9,385.8 291.6,402.7 292.3,384.3 293.0,401.8 293.7,386.1 294.4,405.4 295.1,384.9 295.8,405.6 296.5,383.8 297.2,402.8 297.9,381.2 298.6,402.1 299.3,384.7 300.0,401.2 300.7,384.1 301.4,402.3 302.1,385.2 302.8,404.1 303.5,383.1 304.2,401.8 304.9,383.2 305.6,402.8 306.3,389.1 307.0,403.1 307.7,385.2 308.4,403.5 309.1,383.8 309.8,400.9 310.5,385.6 311.2,400.3 311.9,383.6 312.6,402.5 313.3,381.4 314.0,399.8 314.7,383.7 315.4,404.7 316.1,384.8 316.8,402.8 317.5,386.0 318.2,401.7 318.9,383.0 319.6,402.9 320.3,383.6 321.0,402.3 321.7,386.7 322.4,405.9 323.1,387.1 323.8,403.9 324.5,385.1 325.2,400.9 325.9,385.9 326.6,406.2 327.3,386.5 328.0,404.4 328.7,387.6 329.4,401.0 330.1,383.4 330.8,400.7 331.5,387.4 332.2,407.6 332.9,387.7 333.6,406.0 334.3,382.8 335.0,407.3 335.7,384.9 336.4,402.5 337.1,383.6 337.8,400.6 338.5,385.5 339.2,402.8 339.9,384.3 340.6,398.1 341.3,385.7 342.0,403.7 342.7,385.5 343.4,403.9 344.1,384.3 344.8,405.5 345.5,382.5 346.2,404.7 346.9,382.7 347.6,402.2 348.3,384.0 349.0,397.4 349.7,380.5 350.4,407.9 351.1,383.9 351.8,402.2 352.5,385.1 353.2,400.0 353.9,384.2 354.6,402.8 355.3,382.7 356.0,400.9 356.7,379.2 357.4,401.0 358.1,382.3 358.8,400.6 359.5,379.9 360.2,399.5 360.9,384.3 361.6,399.8 362.3,382.3 363.0,401.1 363.7,382.4 364.4,399.4 365.1,381.1 365.8,402.2 366.5,381.5 367.2,403.2 367.9,380.4 368.6,400.6 369.3,382.3 370.0,397.7 370.7,381.0 371.4,395.2 372.1,378.1 372.8,397.0 373.5,382.3 374.2,392.1 374.9,379.8 375.6,395.5 376.3,375.5 377.0,393.9 377.7,374.6 378.4,387.2 379.1,365.1 379.8,378.6 380.5,361.0 381.2,368.0 381.9,343.2 382.6,344.1 383.3,305.8 384.0,301.4 384.7,264.3 385.4,284.9 386.1,286.2 386.8,331.2 387.5,330.0 388.2,356.7 388.9,348.2 389.6,376.7 390.3,363.6 391.0,381.5 391.7,367.2 392.4,387.6 393.1,372.2 393.8,389.9 394.5,376.0 395.2,394.6 395.9,377.2 396.6,389.4 397.3,378.4 398.0,392.3 398.7,376.9 399.4,394.8 400.1,379.3 400.8,391.4 401.5,372.4 402.2,397.4 402.9,373.2 403.6,395.0 404.3,375.2 405.0,393.0 405.7,378.0 406.4,392.6 407.1,374.2 407.8,395.8 408.5,373.1 409.2,392.4 409.9,373.0 410.6,392.4 411.3,376.7 412.0,393.1 412.7,375.3 413.4,395.5 414.1,374.9 414.8,393.4 415.5,372.5 416.2,393.4 416.9,373.7 417.6,403.6 418.3,376.4 419.0,389.6 419.7,372.9 420.4,388.8 421.1,372.3 421.8,389.6 422.5,369.4 423.2,388.3 423.9,370.7 424.6,388.1 425.3,372.9 426.0,385.9 426.7,370.2 427.4,387.9 428.1,371.2 428.8,382.6 429.5,368.5 430.2,383.5 430.9,368.2 431.6,382.5 432.3,363.1 433.0,381.2 433.7,365.1 434.4,382.8 435.1,362.7 435.8,377.8 436.5,358.6 437.2,375.9 437.9,356.8 438.6,374.8 439.3,350.4 440.0,367.9 440.7,345.5 441.4,363.6 442.1,344.7 442.8,357.2 443.5,334.3 444.2,348.8 444.9,320.1 445.6,328.8 446.3,298.6 447.0,302.3 447.7,260.6 448.4,252.1 449.1,193.1 449.8,159.8 450.5,101.5 451.2,113.4 451.9,123.3 452.6,189.7 453.3,218.1 454.0,269.9 454.7,277.8 455.4,313.3 456.1,303.6 456.8,334.8 457.5,320.8 458.2,344.0 458.9,335.3 459.6,354.1 460.3,337.0 461.0,359.4 461.7,342.8 462.4,363.6 463.1,347.1 463.8,367.7 464.5,350.1 465.2,368.1 465.9,351.0 466.6,373.8 467.3,351.8 468.0,368.7 468.7,350.7 469.4,374.4 470.1,355.6 470.8,374.6 471.5,359.7 472.2,377.2 472.9,361.1 473.6,380.2 474.3,364.6 475.0,383.6 475.7,366.0 476.4,383.9 477.1,366.1 477.8,387.9 478.5,375.7 479.2,389.3 479.9,369.9 480.6,387.4 481.3,372.6 482.0,392.0 482.7,370.1 483.4,391.4 484.1,372.9 484.8,392.5 485.5,376.5 486.2,391.5 486.9,374.9 487.6,396.2 488.3,378.8 489.0,397.0 489.7,380.0 490.4,396.2 491.1,382.4 491.8,394.4 492.5,380.3 493.2,401.4 493.9,377.3 494.6,401.2 495.3,380.9 496.0,399.5 496.7,380.2 497.4,398.4 498.1,379.9 498.8,398.3 499.5,379.8 500.2,399.7 500.9,382.9 501.6,401.8 502.3,385.2 503.0,397.9 503.7,384.2 504.4,402.4 505.1,380.7 505.8,401.7 506.5,384.6 507.2,402.7 507.9,383.2 508.6,399.8 509.3,387.7 510.0,401.0 510.7,382.5 511.4,402.8 512.1,385.0 512.8,403.6 513.5,384.7 514.2,400.0 514.9,383.7 515.6,407.1 516.3,386.6 517.0,402.1 517.7,385.3 518.4,401.3 519.1,383.5 519.8,402.2 520.5,386.8 521.2,408.9 521.9,384.3 522.6,403.2 523.3,400.8 524.0,406.4 524.7,385.9 525.4,403.5 526.1,385.7 526.8,402.4 527.5,385.0 528.2,406.2 528.9,384.7 529.6,404.1 530.3,383.2 531.0,408.6 531.7,387.7 532.4,403.4 533.1,383.5 533.8,405.6 534.5,381.8 535.2,404.5 535.9,383.8 536.6,399.0 537.3,380.4 538.0,398.1 538.7,373.3 539.4,389.6 540.1,369.7 540.8,378.1 541.5,348.5 542.2,358.2 542.9,338.3 543.6,354.9 544.3,345.5 545.0,376.2 545.7,362.7 546.4,389.6 547.1,377.7 547.8,397.3 548.5,377.6 549.2,402.1 549.9,385.7 550.6,402.6 551.3,385.6 552.0,404.7 552.7,389.0 553.4,402.6 554.1,386.7 554.8,404.6 555.5,386.7 556.2,407.3 556.9,386.2 557.6,406.1 558.3,389.3 559.0,406.5 559.7,390.5 560.4,406.9 561.1,387.4 561.8,407.4 562.5,387.0 563.2,408.1 563.9,387.7 564.6,406.9 565.3,390.7 566.0,406.2 566.7,388.0 567.4,405.5 568.1,391.4 568.8,411.0 569.5,390.2 570.2,410.4 570.9,389.0 571.6,405.8 572.3,387.4 573.0,405.5 573.7,388.2 574.4,409.1 575.1,393.0 575.8,408.4 576.5,388.6 577.2,410.1 577.9,388.7 578.6,406.5 579.3,388.9 580.0,411.0 580.7,388.9 581.4,409.6 582.1,387.3 582.8,408.5 583.5,389.2 584.2,412.3 584.9,390.1 585.6,408.6 586.3,394.3 587.0,411.4 587.7,389.1 588.4,407.4 589.1,388.1 589.8,408.7 590.5,391.6 591.2,409.4 591.9,399.5 592.6,408.8 593.3,395.5 594.0,406.8 594.7,393.3 595.4,408.6 596.1,391.2 596.8,406.8 597.5,392.4 598.2,409.6 598.9,390.0 599.6,410.8 600.3,393.1 601.0,409.1 601.7,387.8 602.4,407.7 603.1,390.3 603.8,412.4 604.5,391.2 605.2,408.4 605.9,389.8 606.6,410.5 607.3,394.1 608.0,413.1 608.7,391.5 609.4,412.7 610.1,391.2 610.8,412.0 611.5,389.1 612.2,409.4 612.9,389.4 613.6,409.5 614.3,392.8 615.0,413.1 615.7,389.7 616.4,409.8 617.1,393.3 617.8,412.9 618.5,393.9 619.2,411.7 619.9,392.0 620.6,408.8 621.3,393.5 622.0,407.9 622.7,393.6 623.4,413.0 624.1,389.6 624.8,407.0 625.5,392.7 626.2,409.9 626.9,393.2 627.6,412.0 628.3,393.6 629.0,409.4 629.7,389.0 630.4,411.4 631.1,388.1 631.8,412.3 632.5,390.8 633.2,410.8 633.9,392.9 634.6,407.0 635.3,393.5 636.0,410.4 636.7,391.0 637.4,406.7 638.1,392.4 638.8,409.9 639.5,392.9 640.2,407.6 640.9,391.9 641.6,410.7 642.3,390.7 643.0,409.1 643.7,390.0 644.4,410.4 645.1,391.5 645.8,410.0 646.5,387.8 647.2,409.2 647.9,391.2 648.6,409.9 649.3,392.0 650.0,409.7 650.7,387.3 651.4,410.9 652.1,391.1 652.8,410.8 653.5,391.4 654.2,406.1 654.9,391.1 655.6,412.6 656.3,390.8 657.0,411.0 657.7,391.1 658.4,409.9 659.1,392.5 659.8,407.7 660.5,390.6 661.2,410.7 661.9,388.6 662.6,411.2 663.3,391.1 664.0,410.3 664.7,387.5 665.4,410.8 666.1,390.5 666.8,407.1 667.5,385.4 668.2,401.5 668.9,382.5 669.6,395.2 670.3,376.8 671.0,388.1 671.7,368.4 672.4,386.5 673.1,373.1 673.8,393.9 674.5,380.3 675.2,402.1 675.9,386.1 676.6,403.7 677.3,385.3 678.0,407.9 678.7,392.5 679.4,406.5 680.1,387.8 680.8,409.1 681.5,390.3 682.2,410.4 682.9,390.7 683.6,411.8 684.3,389.3 685.0,408.7 685.7,390.0 686.4,410.7 687.1,387.1 687.8,408.4 688.5,387.8 689.2,410.4 689.9,393.1 690.6,411.5 691.3,388.0 692.0,409.4 692.7,393.9 693.4,409.3 694.1,389.2 694.8,408.5 695.5,393.5 696.2,405.2 696.9,388.3 697.6,407.4 698.3,390.9 699.0,410.1 699.7,390.0 700.4,409.0 701.1,390.9 701.8,406.7 702.5,389.2 703.2,405.2 703.9,390.1 704.6,405.5 705.3,385.6 706.0,403.2 706.7,384.5 707.4,402.1 708.1,383.6 708.8,399.1 709.5,373.1 710.2,387.6 710.9,364.7 711.6,377.0 712.3,346.5 713.0,359.1 713.7,345.6 714.4,375.0 715.1,366.0 715.8,388.8 716.5,378.0 717.2,395.9 717.9,384.4 718.6,404.6 719.3,385.0 720.0,404.5 720.7,388.7 721.4,405.0 722.1,386.7 722.8,403.5 723.5,387.9 724.2,408.0 724.9,389.2 725.6,409.9 726.3,385.1 727.0,408.5 727.7,386.0 728.4,408.9 729.1,391.1 729.8,410.9 730.5,393.9 731.2,410.2 731.9,391.5 732.6,408.9 733.3,387.9 734.0,409.6 734.7,389.5 735.4,407.3 736.1,388.6 736.8,405.9 737.5,389.4 738.2,410.0 738.9,386.8 739.6,406.0 740.3,386.1 741.0,408.3 741.7,390.0 742.4,408.5 743.1,392.5 743.8,406.3 744.5,389.0 745.2,409.9 745.9,389.7 746.6,408.3 747.3,389.6 748.0,405.4 748.7,389.1 749.4,406.5 750.1,387.5 750.8,408.9 751.5,388.8 752.2,405.8 752.9,386.1 753.6,407.4 754.3,386.9 755.0,408.8 755.7,387.1 756.4,406.6 757.1,391.0 757.8,407.3 758.5,388.1 759.2,404.3 759.9,387.4 760.6,409.7 761.3,388.1 762.0,403.5 762.7,387.6 763.4,406.5 764.1,384.1 764.8,406.5 765.5,389.3 766.2,405.8 766.9,386.2 767.6,406.6 768.3,386.8 769.0,406.7 769.7,386.1 770.4,406.9 771.1,385.9 771.8,400.7 772.5,384.5 773.2,398.9 773.9,380.9 774.6,398.4 775.3,382.2 776.0,393.6 776.7,373.7 777.4,394.7 778.1,369.3 778.8,382.7 779.5,356.7 780.2,363.1 780.9,326.6 781.6,326.1 782.3,290.6 783.0,302.7 783.7,291.8 784.4,328.7 785.1,327.3 785.8,361.5 786.5,352.3 787.2,381.7 787.9,369.4 788.6,387.5 789.3,375.5 790.0,392.6 790.7,379.7 791.4,397.5 792.1,384.0 792.8,397.6 793.5,380.2 794.2,401.7 794.9,376.7 795.6,400.5 796.3,383.8 797.0,403.5 797.7,385.0 798.4,398.7 799.1,384.2 799.8,401.3 800.5,385.1 801.2,400.7 801.9,384.6 802.6,399.3 803.3,385.6 804.0,399.6 804.7,382.5 805.4,398.0 806.1,382.4 806.8,398.0 807.5,380.2 808.2,396.8 808.9,374.7 809.6,395.1 810.3,375.9 811.0,389.5 811.7,372.3 812.4,390.4 813.1,373.8 813.8,391.3 814.5,369.7 815.2,390.9 815.9,372.5 816.6,393.3 817.3,375.6 818.0,394.1 818.7,375.8 819.4,395.8 820.1,377.3 820.8,399.8 821.5,381.7 822.2,403.1 822.9,374.3 823.6,405.3 824.3,384.2 825.0,405.1 825.7,387.0 826.4,409.3 827.1,385.8 827.8,406.0 828.5,386.0 829.2,405.0 829.9,386.5 830.6,407.6 831.3,388.7 832.0,402.8 832.7,388.0 833.4,406.2 834.1,388.5 834.8,406.9 835.5,389.3 836.2,410.6 836.9,390.7 837.6,410.2 838.3,388.0 839.0,407.3 839.7,390.8 840.4,405.6 841.1,389.9 841.8,406.3 842.5,390.0 843.2,408.3 843.9,390.8 844.6,409.9 845.3,390.9 846.0,408.4 846.7,389.3 847.4,409.8 848.1,392.1 848.8,410.0 849.5,394.3 850.2,411.5 850.9,387.2 851.6,408.1 852.3,391.1 853.0,411.9 853.7,389.6 854.4,411.4 855.1,388.3 855.8,411.6 856.5,393.6 857.2,422.4 857.9,393.0 858.6,411.3 859.3,392.9 860.0,410.8 860.7,390.2 861.4,409.4 862.1,391.5 862.8,406.1 863.5,392.3 864.2,412.0 864.9,389.7 865.6,410.1 866.3,392.4 867.0,411.2 867.7,390.7 868.4,413.0 869.1,394.6 869.8,408.7 870.5,392.2 871.2,412.2 871.9,392.1 872.6,408.6 873.3,392.4 874.0,411.7 874.7,392.0 875.4,414.6 876.1,394.0 876.8,413.5 877.5,394.2 878.2,411.7 878.9,390.3 879.6,408.4 880.3,395.9 881.0,413.2 881.7,391.0 882.4,411.5 883.1,396.3 883.8,412.6 884.5,395.3 885.2,410.9 885.9,391.0 886.6,412.1 887.3,392.2 888.0,406.9 888.7,393.2 889.4,411.7 890.1,396.9 890.8,412.4 891.5,393.9 892.2,409.6 892.9,395.2 893.6,410.6 894.3,392.6 895.0,424.0 895.7,391.5 896.4,411.0 897.1,394.6 897.8,412.0 898.5,394.0 899.2,415.0 899.9,395.8 900.6,413.0 901.3,390.2 902.0,409.9 902.7,390.0 903.4,412.0 904.1,393.9 904.8,409.4 905.5,391.7 906.2,412.7 906.9,393.1 907.6,413.0 908.3,392.7 909.0,411.4 909.7,389.5 910.4,410.2 911.1,392.7 911.8,409.7 912.5,394.3 913.2,412.1 913.9,392.5 914.6,411.5 915.3,392.0 916.0,411.0 916.7,389.1 917.4,409.3 918.1,393.0 918.8,409.6 919.5,391.5 920.2,409.0 920.9,386.6 921.6,406.4 922.3,388.3 923.0,402.4 923.7,384.5 924.4,402.0 925.1,387.1 925.8,404.0 926.5,387.3 927.2,408.2 927.9,387.2 928.6,410.6 929.3,392.2 930.0,411.0 930.7,393.7 931.4,412.3 932.1,391.3 932.8,412.9 933.5,391.5 934.2,412.8 934.9,396.7 935.6,413.0 936.3,394.0 937.0,411.9 937.7,390.1 938.4,414.1 939.1,395.3 939.8,413.4 940.5,393.0 941.2,412.8 941.9,396.7 942.6,409.0 943.3,393.3 944.0,411.6 944.7,395.0 945.4,414.4 946.1,392.1 946.8,412.4 947.5,393.5 948.2,411.1 948.9,396.6 949.6,411.2 950.3,398.0 951.0,411.6 951.7,396.5 952.4,411.6 953.1,397.4 953.8,413.1 954.5,391.3 955.2,414.5 955.9,398.0 956.6,412.2 957.3,393.6 958.0,415.3 958.7,392.6 959.4,413.5 960.1,390.2 960.8,414.3 961.5,389.8 962.2,410.9 962.9,396.9 963.6,411.9 964.3,390.2 965.0,411.2 965.7,396.3 966.4,415.2 967.1,394.5 967.8,415.4 968.5,397.0 969.2,412.8 969.9,395.4 970.6,414.2 971.3,394.7 972.0,415.2 972.7,395.5 973.4,412.8 974.1,391.1 974.8,409.6 975.5,396.3 976.2,413.6 976.9,390.3 977.6,412.6 978.3,392.7 979.0,412.7 979.7,390.4 980.4,413.0 981.1,391.0 981.8,409.0 982.5,387.8 983.2,407.2 983.9,389.3 984.6,410.1 985.3,390.6 986.0,410.9 986.7,394.1 987.4,413.1 988.1,395.6 988.8,412.8 989.5,395.8 990.2,415.6 990.9,391.9 991.6,410.6 992.3,394.7 993.0,413.8 993.7,393.5 994.4,413.0 995.1,395.8 995.8,415.5 996.5,395.0 997.2,411.6 997.9,394.1 998.6,413.1 999.3,393.2 1000.0,414.5 1000.7,397.9 1001.4,417.2 1002.1,397.0 1002.8,414.9 1003.5,395.4 1004.2,414.3 1004.9,397.3 1005.6,415.4 1006.3,390.3" fill="none" stroke="#0a8a80" stroke-width="2.6" stroke-linejoin="round" stroke-linecap="round"/>
<polyline points="202.0,389.8 203.4,389.8 204.8,389.8 206.2,389.9 207.6,389.9 209.0,389.9 210.4,389.9 211.8,389.9 213.2,389.9 214.6,389.9 216.0,389.9 217.4,389.9 218.8,389.9 220.2,389.8 221.6,389.7 223.0,389.6 224.4,389.5 225.8,389.2 227.2,388.9 228.6,388.4 230.0,387.7 231.4,386.6 232.8,384.7 234.2,381.4 235.6,375.1 237.0,362.8 238.4,346.0 239.8,348.0 241.2,365.2 242.6,376.5 244.0,382.4 245.4,385.5 246.8,387.3 248.2,388.4 249.6,389.2 251.0,389.7 252.4,390.1 253.8,390.4 255.2,390.7 256.6,390.9 258.0,391.0 259.4,391.2 260.8,391.3 262.2,391.4 263.6,391.6 265.0,391.7 266.4,391.8 267.8,391.8 269.2,391.9 270.6,392.0 272.0,392.1 273.4,392.2 274.8,392.2 276.2,392.3 277.6,392.4 279.0,392.5 280.4,392.5 281.8,392.6 283.2,392.7 284.6,392.7 286.0,392.8 287.4,392.9 288.8,392.9 290.2,393.0 291.6,393.0 293.0,393.1 294.4,393.2 295.8,393.2 297.2,393.3 298.6,393.3 300.0,393.4 301.4,393.5 302.8,393.5 304.2,393.6 305.6,393.6 307.0,393.7 308.4,393.7 309.8,393.8 311.2,393.8 312.6,393.9 314.0,394.0 315.4,394.0 316.8,394.1 318.2,394.1 319.6,394.2 321.0,394.2 322.4,394.3 323.8,394.3 325.2,394.4 326.6,394.4 328.0,394.5 329.4,394.5 330.8,394.5 332.2,394.4 333.6,394.3 335.0,394.2 336.4,394.1 337.8,394.0 339.2,393.9 340.6,393.7 342.0,393.6 343.4,393.5 344.8,393.4 346.2,393.3 347.6,393.2 349.0,393.0 350.4,392.9 351.8,392.8 353.2,392.6 354.6,392.5 356.0,392.3 357.4,392.2 358.8,392.0 360.2,391.8 361.6,391.6 363.0,391.4 364.4,391.1 365.8,390.8 367.2,390.5 368.6,390.0 370.0,389.5 371.4,388.9 372.8,388.1 374.2,387.0 375.6,385.4 377.0,383.2 378.4,379.5 379.8,373.2 381.2,361.2 382.6,336.5 384.0,292.0 385.4,275.2 386.8,318.8 388.2,351.7 389.6,367.5 391.0,375.3 392.4,379.5 393.8,381.9 395.2,383.3 396.6,384.2 398.0,384.8 399.4,385.1 400.8,385.3 402.2,385.3 403.6,385.3 405.0,385.2 406.4,385.1 407.8,384.9 409.2,384.7 410.6,384.5 412.0,384.3 413.4,384.0 414.8,383.6 416.2,383.3 417.6,382.9 419.0,382.5 420.4,382.0 421.8,381.3 423.2,380.6 424.6,379.7 426.0,378.9 427.4,377.9 428.8,376.9 430.2,375.7 431.6,374.4 433.0,372.9 434.4,371.2 435.8,369.2 437.2,366.7 438.6,363.7 440.0,359.9 441.4,354.9 442.8,347.9 444.2,337.8 445.6,322.0 447.0,294.7 448.4,242.8 449.8,153.8 451.2,103.3 452.6,180.8 454.0,259.3 455.4,301.9 456.8,324.6 458.2,337.9 459.6,346.2 461.0,351.7 462.4,355.4 463.8,357.7 465.2,359.2 466.6,360.3 468.0,361.6 469.4,363.4 470.8,366.0 472.2,368.8 473.6,371.3 475.0,373.5 476.4,375.5 477.8,377.2 479.2,378.7 480.6,380.0 482.0,381.3 483.4,382.4 484.8,383.5 486.2,384.5 487.6,385.5 489.0,386.5 490.4,387.3 491.8,387.8 493.2,388.3 494.6,388.8 496.0,389.2 497.4,389.7 498.8,390.1 500.2,390.5 501.6,390.9 503.0,391.3 504.4,391.7 505.8,392.1 507.2,392.5 508.6,392.9 510.0,393.2 511.4,393.6 512.8,393.9 514.2,394.3 515.6,394.6 517.0,394.9 518.4,395.2 519.8,395.5 521.2,395.6 522.6,395.6 524.0,395.6 525.4,395.6 526.8,395.5 528.2,395.4 529.6,395.2 531.0,394.9 532.4,394.5 533.8,393.8 535.2,392.7 536.6,390.8 538.0,387.6 539.4,381.4 540.8,369.3 542.2,350.8 543.6,348.7 545.0,367.1 546.4,380.6 547.8,387.5 549.2,391.2 550.6,393.4 552.0,394.7 553.4,395.6 554.8,396.3 556.2,396.7 557.6,397.1 559.0,397.4 560.4,397.7 561.8,397.9 563.2,398.1 564.6,398.2 566.0,398.4 567.4,398.5 568.8,398.7 570.2,398.8 571.6,398.9 573.0,399.0 574.4,399.1 575.8,399.2 577.2,399.3 578.6,399.4 580.0,399.5 581.4,399.6 582.8,399.7 584.2,399.7 585.6,399.8 587.0,399.9 588.4,400.0 589.8,400.1 591.2,400.2 592.6,400.2 594.0,400.3 595.4,400.4 596.8,400.5 598.2,400.5 599.6,400.6 601.0,400.6 602.4,400.7 603.8,400.7 605.2,400.7 606.6,400.7 608.0,400.7 609.4,400.7 610.8,400.7 612.2,400.7 613.6,400.7 615.0,400.7 616.4,400.7 617.8,400.7 619.2,400.7 620.6,400.7 622.0,400.7 623.4,400.7 624.8,400.7 626.2,400.7 627.6,400.7 629.0,400.7 630.4,400.7 631.8,400.7 633.2,400.7 634.6,400.7 636.0,400.6 637.4,400.6 638.8,400.6 640.2,400.6 641.6,400.6 643.0,400.6 644.4,400.6 645.8,400.5 647.2,400.5 648.6,400.5 650.0,400.5 651.4,400.4 652.8,400.4 654.2,400.3 655.6,400.2 657.0,400.1 658.4,400.0 659.8,399.9 661.2,399.6 662.6,399.3 664.0,398.8 665.4,398.0 666.8,396.6 668.2,394.1 669.6,389.2 671.0,381.1 672.4,378.3 673.8,385.9 675.2,392.3 676.6,395.7 678.0,397.4 679.4,398.4 680.8,398.9 682.2,399.3 683.6,399.5 685.0,399.7 686.4,399.8 687.8,399.8 689.2,399.9 690.6,399.9 692.0,399.8 693.4,399.8 694.8,399.7 696.2,399.6 697.6,399.4 699.0,399.2 700.4,398.9 701.8,398.4 703.2,397.8 704.6,396.9 706.0,395.4 707.4,392.9 708.8,388.5 710.2,380.0 711.6,364.4 713.0,352.2 714.4,364.3 715.8,379.8 717.2,388.2 718.6,392.6 720.0,394.9 721.4,396.3 722.8,397.1 724.2,397.7 725.6,398.1 727.0,398.3 728.4,398.5 729.8,398.6 731.2,398.7 732.6,398.7 734.0,398.8 735.4,398.8 736.8,398.8 738.2,398.8 739.6,398.7 741.0,398.7 742.4,398.7 743.8,398.6 745.2,398.5 746.6,398.5 748.0,398.4 749.4,398.3 750.8,398.2 752.2,398.1 753.6,398.0 755.0,397.9 756.4,397.8 757.8,397.7 759.2,397.5 760.6,397.3 762.0,397.1 763.4,396.9 764.8,396.6 766.2,396.2 767.6,395.8 769.0,395.2 770.4,394.5 771.8,393.5 773.2,392.0 774.6,390.0 776.0,386.8 777.4,381.4 778.8,371.7 780.2,352.8 781.6,318.5 783.0,291.5 784.4,318.3 785.8,352.4 787.2,371.0 788.6,380.5 790.0,385.7 791.4,388.6 792.8,390.4 794.2,391.5 795.6,392.2 797.0,392.5 798.4,392.6 799.8,392.5 801.2,392.3 802.6,391.9 804.0,391.2 805.4,390.3 806.8,389.0 808.2,387.4 809.6,385.5 811.0,383.5 812.4,381.9 813.8,381.2 815.2,381.8 816.6,383.6 818.0,385.8 819.4,388.1 820.8,390.1 822.2,391.8 823.6,393.2 825.0,394.4 826.4,395.3 827.8,396.0 829.2,396.6 830.6,397.1 832.0,397.5 833.4,397.9 834.8,398.2 836.2,398.5 837.6,398.7 839.0,399.0 840.4,399.2 841.8,399.3 843.2,399.5 844.6,399.7 846.0,399.8 847.4,399.9 848.8,400.1 850.2,400.2 851.6,400.3 853.0,400.4 854.4,400.5 855.8,400.6 857.2,400.8 858.6,400.9 860.0,400.9 861.4,401.0 862.8,401.1 864.2,401.2 865.6,401.3 867.0,401.4 868.4,401.5 869.8,401.6 871.2,401.6 872.6,401.7 874.0,401.7 875.4,401.8 876.8,401.8 878.2,401.8 879.6,401.9 881.0,401.9 882.4,401.9 883.8,402.0 885.2,402.0 886.6,402.0 888.0,402.1 889.4,402.1 890.8,402.1 892.2,402.2 893.6,402.2 895.0,402.2 896.4,402.3 897.8,402.3 899.2,402.3 900.6,402.3 902.0,402.3 903.4,402.4 904.8,402.4 906.2,402.4 907.6,402.4 909.0,402.3 910.4,402.3 911.8,402.3 913.2,402.2 914.6,402.0 916.0,401.8 917.4,401.4 918.8,400.6 920.2,399.3 921.6,396.7 923.0,392.7 924.4,391.3 925.8,395.2 927.2,398.5 928.6,400.4 930.0,401.4 931.4,402.0 932.8,402.3 934.2,402.6 935.6,402.7 937.0,402.9 938.4,403.0 939.8,403.1 941.2,403.2 942.6,403.2 944.0,403.3 945.4,403.3 946.8,403.4 948.2,403.4 949.6,403.5 951.0,403.5 952.4,403.5 953.8,403.6 955.2,403.6 956.6,403.7 958.0,403.7 959.4,403.7 960.8,403.7 962.2,403.8 963.6,403.8 965.0,403.8 966.4,403.8 967.8,403.8 969.2,403.8 970.6,403.8 972.0,403.8 973.4,403.7 974.8,403.6 976.2,403.4 977.6,403.0 979.0,402.2 980.4,400.7 981.8,399.3 983.2,400.3 984.6,402.0 986.0,403.0 987.4,403.6 988.8,403.9 990.2,404.1 991.6,404.2 993.0,404.3 994.4,404.4 995.8,404.5 997.2,404.5 998.6,404.6 1000.0,404.6 1001.4,404.7 1002.8,404.7 1004.2,404.7 1005.6,404.8" fill="none" stroke="#0a8a80" stroke-width="5.5" stroke-linejoin="round" stroke-linecap="round"/>
<path d="M200,46.5H1009V814.3H200Z" fill="none" stroke="#000" stroke-width="8.8" stroke-linejoin="round"/>
<line x1="261.00" y1="814.30" x2="261.00" y2="801.30" stroke="#000" stroke-width="6" stroke-linecap="butt"/>
<line x1="385.80" y1="814.30" x2="385.80" y2="801.30" stroke="#000" stroke-width="6" stroke-linecap="butt"/>
<line x1="510.60" y1="814.30" x2="510.60" y2="801.30" stroke="#000" stroke-width="6" stroke-linecap="butt"/>
<line x1="635.40" y1="814.30" x2="635.40" y2="801.30" stroke="#000" stroke-width="6" stroke-linecap="butt"/>
<line x1="760.20" y1="814.30" x2="760.20" y2="801.30" stroke="#000" stroke-width="6" stroke-linecap="butt"/>
<line x1="885.00" y1="814.30" x2="885.00" y2="801.30" stroke="#000" stroke-width="6" stroke-linecap="butt"/>
<text transform="translate(233.06,883.84) scale(0.8240,1)" font-size="67.43" font-weight="normal" fill="#000" stroke="#000" stroke-width="1.85" stroke-linejoin="round">20</text>
<text transform="translate(357.63,883.84) scale(0.8275,1)" font-size="67.43" font-weight="normal" fill="#000" stroke="#000" stroke-width="1.84" stroke-linejoin="round">30</text>
<text transform="translate(484.04,883.84) scale(0.8026,1)" font-size="67.43" font-weight="normal" fill="#000" stroke="#000" stroke-width="1.87" stroke-linejoin="round">40</text>
<text transform="translate(606.62,883.84) scale(0.8369,1)" font-size="67.43" font-weight="normal" fill="#000" stroke="#000" stroke-width="1.84" stroke-linejoin="round">50</text>
<text transform="translate(732.32,883.84) scale(0.8231,1)" font-size="67.43" font-weight="normal" fill="#000" stroke="#000" stroke-width="1.85" stroke-linejoin="round">60</text>
<text transform="translate(855.75,883.84) scale(0.8442,1)" font-size="67.43" font-weight="normal" fill="#000" stroke="#000" stroke-width="1.83" stroke-linejoin="round">70</text>
<text transform="translate(982.20,883.84) scale(0.8187,1)" font-size="67.43" font-weight="normal" fill="#000" stroke="#000" stroke-width="1.85" stroke-linejoin="round">80</text>
<text transform="translate(522.70,961.00) scale(1.0028,1)" font-size="63.43" font-weight="normal" fill="#000" stroke="#000" stroke-width="1.58" stroke-linejoin="round">2</text>
<text transform="translate(587.59,961.71) scale(0.8917,1)" font-size="61.56" font-weight="normal" fill="#000" stroke="#000" stroke-width="1.63" stroke-linejoin="round">(deg)</text>
<text transform="translate(116.30,590.98) rotate(-90) scale(1.0714,1)" font-size="54.81" font-weight="bold" fill="#000" stroke="#000" stroke-width="1.06" stroke-linejoin="round">Intensity (a.u.)</text>
<text transform="translate(899.74,161.16) scale(0.8853,1)" font-size="83.82" font-weight="bold" fill="#000" stroke="#000" stroke-width="1.78" stroke-linejoin="round">(a)</text>
<text transform="translate(526.39,117.90) scale(0.8334,1)" font-size="63.97" font-weight="bold" fill="#000" stroke="#000" stroke-width="1.40" stroke-linejoin="round">MnFe</text>
<text transform="translate(663.31,127.30) scale(0.8132,1)" font-size="69.93" font-weight="bold" fill="#000" stroke="#000" stroke-width="1.54" stroke-linejoin="round">2</text>
<text transform="translate(696.26,117.86) scale(0.8318,1)" font-size="65.04" font-weight="bold" fill="#000" stroke="#000" stroke-width="1.42" stroke-linejoin="round">O</text>
<text transform="translate(739.47,127.30) scale(0.7376,1)" font-size="72.17" font-weight="bold" fill="#000" stroke="#000" stroke-width="1.66" stroke-linejoin="round">4</text>
<text transform="translate(200.27,310.79) scale(0.9263,1)" font-size="42.39" font-weight="bold" fill="#000" stroke="#000" stroke-width="0.88" stroke-linejoin="round">(111)</text>
<text transform="translate(349.84,238.80) scale(0.9374,1)" font-size="40.30" font-weight="bold" fill="#000" stroke="#000" stroke-width="0.83" stroke-linejoin="round">(220)</text>
<text transform="translate(417.80,87.81) scale(0.9982,1)" font-size="38.81" font-weight="bold" fill="#000" stroke="#000" stroke-width="0.78" stroke-linejoin="round">(311)</text>
<text transform="translate(504.31,304.48) scale(0.8684,1)" font-size="44.33" font-weight="bold" fill="#000" stroke="#000" stroke-width="0.95" stroke-linejoin="round">(420)</text>
<text transform="translate(635.31,338.29) scale(0.9311,1)" font-size="41.34" font-weight="bold" fill="#000" stroke="#000" stroke-width="0.86" stroke-linejoin="round">(511)</text>
<text transform="translate(678.28,293.79) scale(0.9384,1)" font-size="41.79" font-weight="bold" fill="#000" stroke="#000" stroke-width="0.86" stroke-linejoin="round">(440)</text>
<text transform="translate(748.31,243.30) scale(0.9808,1)" font-size="39.10" font-weight="bold" fill="#000" stroke="#000" stroke-width="0.79" stroke-linejoin="round">(620)</text>
<text transform="translate(808.58,354.70) scale(0.8712,1)" font-size="46.87" font-weight="bold" fill="#000" stroke="#000" stroke-width="1.00" stroke-linejoin="round">pH=12</text>
<text transform="translate(812.31,484.80) scale(0.8405,1)" font-size="46.26" font-weight="bold" fill="#000" stroke="#000" stroke-width="1.01" stroke-linejoin="round">pH=11</text>
<text transform="translate(805.07,595.00) scale(0.9016,1)" font-size="46.11" font-weight="bold" fill="#000" stroke="#000" stroke-width="0.97" stroke-linejoin="round">pH=10</text>
<text transform="translate(807.87,726.00) scale(0.8730,1)" font-size="47.79" font-weight="bold" fill="#000" stroke="#000" stroke-width="1.02" stroke-linejoin="round">pH=09</text>
<polyline points="1487.4,699.0 1488.4,696.2 1489.7,692.9 1491.1,689.0 1492.6,684.8 1494.4,680.1 1496.2,675.1 1498.2,669.8 1500.2,664.3 1502.3,658.7 1504.4,653.0 1506.5,647.2 1508.6,641.5 1510.7,635.8 1512.8,630.3 1514.7,625.0 1516.6,620.0 1518.4,615.1 1520.2,610.2 1522.1,605.3 1523.9,600.4 1525.7,595.5 1527.5,590.6 1529.3,585.7 1531.2,580.9 1533.0,576.0 1534.8,571.2 1536.6,566.4 1538.4,561.6 1540.2,556.9 1542.1,552.2 1543.9,547.6 1545.7,543.0 1547.5,538.5 1549.3,534.1 1551.0,529.7 1552.7,525.4 1554.4,521.2 1556.1,516.9 1557.8,512.7 1559.5,508.6 1561.2,504.4 1563.0,500.2 1564.8,496.0 1566.6,491.8 1568.6,487.5 1570.6,483.2 1572.6,478.8 1574.8,474.4 1577.0,469.9 1579.3,465.3 1581.6,460.6 1584.0,455.9 1586.5,451.2 1588.9,446.4 1591.5,441.6 1594.0,436.8 1596.7,432.0 1599.3,427.2 1602.1,422.5 1604.8,417.8 1607.6,413.1 1610.5,408.5 1613.4,404.0 1616.4,399.5 1619.5,395.1 1622.7,390.6 1626.0,386.0 1629.4,381.5 1632.9,377.0 1636.5,372.5 1640.1,368.0 1643.7,363.6 1647.3,359.3 1650.9,355.1 1654.4,351.0 1657.8,347.1 1661.2,343.3 1664.4,339.7 1667.6,336.2 1670.5,333.0 1673.3,330.0 1676.0,327.2 1678.5,324.6 1680.9,322.2 1683.3,320.0 1685.6,317.9 1687.8,315.9 1690.0,314.0 1692.2,312.2 1694.4,310.4 1696.5,308.7 1698.7,307.0 1701.0,305.2 1703.2,303.4 1705.6,301.6 1708.0,299.7 1710.5,297.8 1712.9,295.8 1715.4,293.9 1717.8,292.0 1720.3,290.2 1722.7,288.3 1725.2,286.5 1727.7,284.6 1730.3,282.8 1732.8,281.0 1735.5,279.2 1738.1,277.5 1740.9,275.7 1743.7,274.0 1746.6,272.3 1749.5,270.6 1752.5,268.9 1755.6,267.3 1758.7,265.6 1761.9,264.0 1765.2,262.3 1768.5,260.7 1771.8,259.2 1775.2,257.6 1778.7,256.0 1782.2,254.5 1785.7,253.0 1789.2,251.5 1792.8,250.0 1796.4,248.5 1800.0,247.0 1803.6,245.6 1807.2,244.2 1810.8,242.7 1814.4,241.3 1818.0,239.8 1821.6,238.4 1825.2,237.0 1828.9,235.6 1832.6,234.2 1836.4,232.9 1840.3,231.6 1844.2,230.3 1848.3,229.1 1852.5,227.9 1856.8,226.8 1861.3,225.8 1866.0,224.8 1870.9,223.9 1876.1,223.1 1881.6,222.3 1887.3,221.6 1893.1,221.0 1899.0,220.4 1905.1,219.8 1911.1,219.3 1917.2,218.8 1923.2,218.3 1929.1,217.9 1934.8,217.4 1940.4,217.0 1945.7,216.5 1950.8,216.1 1955.5,215.6 1959.9,215.1 1964.1,214.7 1968.1,214.2 1971.9,213.8 1975.6,213.4 1979.1,213.0 1982.5,212.7 1985.8,212.3 1989.0,211.9 1992.2,211.6 1995.3,211.2 1998.5,210.8 2001.7,210.4 2004.9,209.9 2008.2,209.5 2011.6,209.0 2015.0,208.5 2018.5,208.0 2021.9,207.6 2025.4,207.1 2028.8,206.6 2032.2,206.2 2035.6,205.7 2039.0,205.2 2042.4,204.6 2045.8,204.1 2049.2,203.5 2052.5,202.8 2055.8,202.2 2059.2,201.4 2062.4,200.6 2065.7,199.8 2068.9,198.9 2072.2,197.9 2075.4,196.9 2078.6,195.8 2081.8,194.6 2085.0,193.4 2088.2,192.2 2091.3,191.0 2094.4,189.7 2097.5,188.5 2100.6,187.2 2103.7,185.9 2106.7,184.6 2109.7,183.4 2112.7,182.2 2115.6,181.0 2118.5,179.8 2121.4,178.7 2124.3,177.6 2127.2,176.5 2130.0,175.4 2132.8,174.3 2135.6,173.2 2138.4,172.1 2141.1,171.0 2143.8,169.8 2146.5,168.7 2149.1,167.5 2151.7,166.3 2154.3,165.0 2156.8,163.7 2159.3,162.4 2161.8,161.0 2164.2,159.6 2166.6,158.1 2169.0,156.6 2171.3,155.1 2173.6,153.5 2175.9,151.9 2178.2,150.3 2180.4,148.7 2182.6,147.0 2184.7,145.4 2186.8,143.8 2188.8,142.2 2190.8,140.6 2192.8,139.0 2194.7,137.4 2196.6,135.8 2198.5,134.1 2200.4,132.4 2202.2,130.6 2204.1,128.8 2205.9,127.0 2207.7,125.2 2209.4,123.4 2211.0,121.7 2212.5,120.0 2214.0,118.4 2215.4,117.0 2216.6,115.6 2217.8,114.4 2218.7,113.4 2219.6,112.5" fill="none" stroke="#127c1c" stroke-width="7.5" stroke-linejoin="round" stroke-linecap="round"/>
<polyline points="1487.4,734.2 1493.6,734.0 1499.7,733.7 1505.9,733.4 1512.0,733.0 1518.2,732.5 1524.3,732.0 1530.5,731.5 1536.6,730.9 1542.8,730.2 1548.9,729.4 1555.1,728.6 1561.2,727.8 1567.4,726.8 1573.5,725.9 1579.7,724.8 1585.8,723.7 1592.0,722.5 1598.2,721.3 1604.3,720.0 1610.5,718.6 1616.6,717.1 1622.8,715.6 1628.9,714.1 1635.1,712.4 1641.2,710.7 1647.4,708.9 1653.5,707.1 1659.7,705.2 1665.8,703.2 1672.0,701.2 1678.1,699.0 1684.3,696.8 1690.4,694.6 1696.6,692.2 1702.8,689.8 1708.9,687.4 1715.1,684.8 1721.2,682.2 1727.4,679.5 1733.5,676.7 1739.7,673.9 1745.8,670.9 1752.0,667.9 1758.1,664.9 1764.3,661.7 1770.4,658.5 1776.6,655.2 1782.7,651.8 1788.9,648.3 1795.0,644.8 1801.2,641.2 1807.4,637.5 1813.5,633.7 1819.7,629.8 1825.8,625.9 1832.0,621.9 1838.1,617.8 1844.3,613.6 1850.4,609.3 1856.6,605.0 1862.7,600.5 1868.9,596.0 1875.0,591.4 1881.2,586.7 1887.3,582.0 1893.5,577.1 1899.6,572.2 1905.8,567.1 1912.0,562.0 1918.1,556.8 1924.3,551.5 1930.4,546.1 1936.6,540.7 1942.7,535.1 1948.9,529.5 1955.0,523.7 1961.2,517.9 1967.3,512.0 1973.5,506.0 1979.6,499.8 1985.8,493.6 1991.9,487.4 1998.1,481.0 2004.2,474.5 2010.4,467.9 2016.6,461.3 2022.7,454.5 2028.9,447.6 2035.0,440.7 2041.2,433.6 2047.3,426.5 2053.5,419.3 2059.6,411.9 2065.8,404.5 2071.9,396.9 2078.1,389.3 2084.2,381.6 2090.4,373.7 2096.5,365.8 2102.7,357.8 2108.8,349.6 2115.0,341.4 2121.2,333.0 2127.3,324.6 2133.5,316.1 2139.6,307.4 2145.8,298.6 2151.9,289.8 2158.1,280.8 2164.2,271.8 2170.4,262.6 2176.5,253.3 2182.7,243.9 2188.8,234.4 2195.0,224.8 2201.1,215.1 2207.3,205.3 2213.4,195.4 2219.6,185.3" fill="none" stroke="#ff0a0a" stroke-width="7.5" stroke-linejoin="round" stroke-linecap="round"/>
<ellipse cx="1546.8" cy="542.9" rx="12" ry="12" fill="#0d7016"/>
<ellipse cx="1751.2" cy="268.8" rx="12" ry="12" fill="#0d7016"/>
<ellipse cx="1955.8" cy="214.0" rx="12" ry="12" fill="#0d7016"/>
<ellipse cx="2160.2" cy="159.2" rx="12" ry="12" fill="#0d7016"/>
<ellipse cx="1546.8" cy="726.7" rx="12" ry="12" fill="#ff0000"/>
<ellipse cx="1751.2" cy="681.5" rx="12" ry="12" fill="#ff0000"/>
<ellipse cx="1955.8" cy="500.9" rx="12" ry="12" fill="#ff0000"/>
<ellipse cx="2160.2" cy="275.2" rx="12" ry="12" fill="#ff0000"/>
<path d="M1444.5,48.5H2262.5V817H1444.5Z" fill="none" stroke="#000" stroke-width="8.8" stroke-linejoin="round"/>
<line x1="1444.50" y1="771.85" x2="1455.50" y2="771.85" stroke="#000" stroke-width="6" stroke-linecap="butt"/>
<line x1="1444.50" y1="726.70" x2="1451.50" y2="726.70" stroke="#000" stroke-width="6" stroke-linecap="butt"/>
<line x1="1444.50" y1="681.55" x2="1455.50" y2="681.55" stroke="#000" stroke-width="6" stroke-linecap="butt"/>
<line x1="1444.50" y1="636.40" x2="1451.50" y2="636.40" stroke="#000" stroke-width="6" stroke-linecap="butt"/>
<line x1="1444.50" y1="591.25" x2="1455.50" y2="591.25" stroke="#000" stroke-width="6" stroke-linecap="butt"/>
<line x1="1444.50" y1="546.10" x2="1451.50" y2="546.10" stroke="#000" stroke-width="6" stroke-linecap="butt"/>
<line x1="1444.50" y1="500.95" x2="1455.50" y2="500.95" stroke="#000" stroke-width="6" stroke-linecap="butt"/>
<line x1="1444.50" y1="455.80" x2="1451.50" y2="455.80" stroke="#000" stroke-width="6" stroke-linecap="butt"/>
<line x1="1444.50" y1="410.65" x2="1455.50" y2="410.65" stroke="#000" stroke-width="6" stroke-linecap="butt"/>
<line x1="1444.50" y1="365.50" x2="1451.50" y2="365.50" stroke="#000" stroke-width="6" stroke-linecap="butt"/>
<line x1="1444.50" y1="320.35" x2="1455.50" y2="320.35" stroke="#000" stroke-width="6" stroke-linecap="butt"/>
<line x1="1444.50" y1="275.20" x2="1451.50" y2="275.20" stroke="#000" stroke-width="6" stroke-linecap="butt"/>
<line x1="1444.50" y1="230.05" x2="1455.50" y2="230.05" stroke="#000" stroke-width="6" stroke-linecap="butt"/>
<line x1="1444.50" y1="184.90" x2="1451.50" y2="184.90" stroke="#000" stroke-width="6" stroke-linecap="butt"/>
<line x1="1444.50" y1="139.75" x2="1455.50" y2="139.75" stroke="#000" stroke-width="6" stroke-linecap="butt"/>
<line x1="1444.50" y1="94.60" x2="1451.50" y2="94.60" stroke="#000" stroke-width="6" stroke-linecap="butt"/>
<line x1="2262.50" y1="762.18" x2="2255.50" y2="762.18" stroke="#000" stroke-width="6" stroke-linecap="butt"/>
<line x1="2262.50" y1="707.36" x2="2251.50" y2="707.36" stroke="#000" stroke-width="6" stroke-linecap="butt"/>
<line x1="2262.50" y1="652.54" x2="2255.50" y2="652.54" stroke="#000" stroke-width="6" stroke-linecap="butt"/>
<line x1="2262.50" y1="597.72" x2="2251.50" y2="597.72" stroke="#000" stroke-width="6" stroke-linecap="butt"/>
<line x1="2262.50" y1="542.90" x2="2255.50" y2="542.90" stroke="#000" stroke-width="6" stroke-linecap="butt"/>
<line x1="2262.50" y1="488.08" x2="2251.50" y2="488.08" stroke="#000" stroke-width="6" stroke-linecap="butt"/>
<line x1="2262.50" y1="433.26" x2="2255.50" y2="433.26" stroke="#000" stroke-width="6" stroke-linecap="butt"/>
<line x1="2262.50" y1="378.44" x2="2251.50" y2="378.44" stroke="#000" stroke-width="6" stroke-linecap="butt"/>
<line x1="2262.50" y1="323.62" x2="2255.50" y2="323.62" stroke="#000" stroke-width="6" stroke-linecap="butt"/>
<line x1="2262.50" y1="268.80" x2="2251.50" y2="268.80" stroke="#000" stroke-width="6" stroke-linecap="butt"/>
<line x1="2262.50" y1="213.98" x2="2255.50" y2="213.98" stroke="#000" stroke-width="6" stroke-linecap="butt"/>
<line x1="2262.50" y1="159.16" x2="2251.50" y2="159.16" stroke="#000" stroke-width="6" stroke-linecap="butt"/>
<line x1="2262.50" y1="104.34" x2="2255.50" y2="104.34" stroke="#000" stroke-width="6" stroke-linecap="butt"/>
<line x1="1546.75" y1="817.00" x2="1546.75" y2="806.00" stroke="#000" stroke-width="6" stroke-linecap="butt"/>
<line x1="1649.00" y1="817.00" x2="1649.00" y2="810.00" stroke="#000" stroke-width="6" stroke-linecap="butt"/>
<line x1="1751.25" y1="817.00" x2="1751.25" y2="806.00" stroke="#000" stroke-width="6" stroke-linecap="butt"/>
<line x1="1853.50" y1="817.00" x2="1853.50" y2="810.00" stroke="#000" stroke-width="6" stroke-linecap="butt"/>
<line x1="1955.75" y1="817.00" x2="1955.75" y2="806.00" stroke="#000" stroke-width="6" stroke-linecap="butt"/>
<line x1="2058.00" y1="817.00" x2="2058.00" y2="810.00" stroke="#000" stroke-width="6" stroke-linecap="butt"/>
<line x1="2160.25" y1="817.00" x2="2160.25" y2="806.00" stroke="#000" stroke-width="6" stroke-linecap="butt"/>
<text transform="translate(1402.95,792.35) scale(0.8634,1)" font-size="62.29" font-weight="normal" fill="#000" stroke="#000" stroke-width="1.67" stroke-linejoin="round">4</text>
<text transform="translate(1401.49,701.45) scale(0.9589,1)" font-size="61.02" font-weight="normal" fill="#000" stroke="#000" stroke-width="1.56" stroke-linejoin="round">6</text>
<text transform="translate(1401.75,611.16) scale(0.9708,1)" font-size="60.76" font-weight="normal" fill="#000" stroke="#000" stroke-width="1.54" stroke-linejoin="round">8</text>
<text transform="translate(1372.87,520.86) scale(0.9604,1)" font-size="60.76" font-weight="normal" fill="#000" stroke="#000" stroke-width="1.55" stroke-linejoin="round">10</text>
<text transform="translate(1372.77,431.15) scale(0.9611,1)" font-size="61.92" font-weight="normal" fill="#000" stroke="#000" stroke-width="1.58" stroke-linejoin="round">12</text>
<text transform="translate(1373.00,340.85) scale(0.9160,1)" font-size="62.11" font-weight="normal" fill="#000" stroke="#000" stroke-width="1.62" stroke-linejoin="round">14</text>
<text transform="translate(1372.92,249.95) scale(0.9472,1)" font-size="61.02" font-weight="normal" fill="#000" stroke="#000" stroke-width="1.57" stroke-linejoin="round">16</text>
<text transform="translate(1372.87,159.66) scale(0.9604,1)" font-size="60.76" font-weight="normal" fill="#000" stroke="#000" stroke-width="1.55" stroke-linejoin="round">18</text>
<text transform="translate(1375.56,69.36) scale(0.9144,1)" font-size="60.76" font-weight="normal" fill="#000" stroke="#000" stroke-width="1.59" stroke-linejoin="round">20</text>
<text transform="translate(2276.01,837.12) scale(0.8454,1)" font-size="61.84" font-weight="normal" fill="#000" stroke="#000" stroke-width="1.68" stroke-linejoin="round">8.38</text>
<text transform="translate(2276.01,727.48) scale(0.8454,1)" font-size="61.84" font-weight="normal" fill="#000" stroke="#000" stroke-width="1.68" stroke-linejoin="round">8.40</text>
<text transform="translate(2275.99,617.84) scale(0.8541,1)" font-size="61.84" font-weight="normal" fill="#000" stroke="#000" stroke-width="1.67" stroke-linejoin="round">8.42</text>
<text transform="translate(2276.04,508.20) scale(0.8342,1)" font-size="61.84" font-weight="normal" fill="#000" stroke="#000" stroke-width="1.69" stroke-linejoin="round">8.44</text>
<text transform="translate(2276.02,398.56) scale(0.8412,1)" font-size="61.84" font-weight="normal" fill="#000" stroke="#000" stroke-width="1.68" stroke-linejoin="round">8.46</text>
<text transform="translate(2276.01,288.92) scale(0.8454,1)" font-size="61.84" font-weight="normal" fill="#000" stroke="#000" stroke-width="1.68" stroke-linejoin="round">8.48</text>
<text transform="translate(2276.01,179.28) scale(0.8454,1)" font-size="61.84" font-weight="normal" fill="#000" stroke="#000" stroke-width="1.68" stroke-linejoin="round">8.50</text>
<text transform="translate(2275.99,69.64) scale(0.8541,1)" font-size="61.84" font-weight="normal" fill="#000" stroke="#000" stroke-width="1.67" stroke-linejoin="round">8.52</text>
<text transform="translate(1532.07,883.88) scale(0.9446,1)" font-size="63.26" font-weight="normal" fill="#000" stroke="#000" stroke-width="1.63" stroke-linejoin="round">9</text>
<text transform="translate(1723.02,883.88) scale(0.8538,1)" font-size="62.98" font-weight="normal" fill="#000" stroke="#000" stroke-width="1.70" stroke-linejoin="round">10</text>
<text transform="translate(1927.40,884.50) scale(0.8568,1)" font-size="64.38" font-weight="normal" fill="#000" stroke="#000" stroke-width="1.73" stroke-linejoin="round">11</text>
<text transform="translate(2131.93,884.50) scale(0.8545,1)" font-size="64.19" font-weight="normal" fill="#000" stroke="#000" stroke-width="1.73" stroke-linejoin="round">12</text>
<text transform="translate(1848.55,939.00) scale(0.8278,1)" font-size="63.44" font-weight="normal" fill="#000" stroke="#000" stroke-width="1.74" stroke-linejoin="round">pH</text>
<text transform="translate(1355.20,690.49) rotate(-90) scale(1.0641,1)" font-size="54.20" font-weight="bold" fill="#000" stroke="#000" stroke-width="1.05" stroke-linejoin="round">Particle size (d) (nm)</text>
<text transform="translate(2420.30,719.76) rotate(-90) scale(1.1308,1)" font-size="54.05" font-weight="normal" fill="#000" stroke="#000" stroke-width="1.27" stroke-linejoin="round">Lattice parameter (a) (Å)</text>
<ellipse cx="1554.0" cy="108.3" rx="12.5" ry="12.5" fill="#ff0000"/>
<ellipse cx="1554.0" cy="208.0" rx="12.5" ry="12.5" fill="#0a6a12"/>
<text transform="translate(1625.51,128.10) scale(0.8975,1)" font-size="58.23" font-weight="normal" fill="#000" stroke="#000" stroke-width="1.53" stroke-linejoin="round">d (nm)</text>
<text transform="translate(1625.56,225.50) scale(0.8362,1)" font-size="62.46" font-weight="normal" fill="#000" stroke="#000" stroke-width="1.70" stroke-linejoin="round">a (Å)</text>
<text transform="translate(2129.15,124.38) scale(0.9041,1)" font-size="76.65" font-weight="bold" fill="#000" stroke="#000" stroke-width="1.61" stroke-linejoin="round">(b)</text>
<line x1="274.01" y1="1201.29" x2="334.57" y2="1557.27" stroke="#000" stroke-width="5.5" stroke-linecap="butt"/>
<line x1="278.99" y1="1063.18" x2="329.59" y2="1173.62" stroke="#ff0000" stroke-width="7" stroke-linecap="butt"/>
<line x1="357.05" y1="1582.80" x2="587.83" y2="1652.98" stroke="#000" stroke-width="5.5" stroke-linecap="butt"/>
<line x1="350.87" y1="1207.05" x2="594.01" y2="1493.34" stroke="#ff0000" stroke-width="7" stroke-linecap="butt"/>
<line x1="626.45" y1="1663.27" x2="923.77" y2="1731.58" stroke="#000" stroke-width="5.5" stroke-linecap="butt"/>
<line x1="625.13" y1="1516.94" x2="925.09" y2="1654.76" stroke="#ff0000" stroke-width="7" stroke-linecap="butt"/>
<rect x="259.2" y="1167.1" width="23" height="29" fill="#000"/>
<rect x="326.4" y="1562.5" width="23" height="29" fill="#000"/>
<rect x="595.5" y="1644.3" width="23" height="29" fill="#000"/>
<rect x="931.8" y="1721.6" width="23" height="29" fill="#000"/>
<ellipse cx="270.7" cy="1045.0" rx="15" ry="16" fill="#ff0000"/>
<ellipse cx="337.9" cy="1191.8" rx="15" ry="16" fill="#ff0000"/>
<ellipse cx="607.0" cy="1508.6" rx="15" ry="16" fill="#ff0000"/>
<ellipse cx="943.3" cy="1663.1" rx="15" ry="16" fill="#ff0000"/>
<path d="M203.4,1018H1010.5V1790.6H203.4Z" fill="none" stroke="#000" stroke-width="8.8" stroke-linejoin="round"/>
<line x1="203.40" y1="1745.15" x2="214.40" y2="1745.15" stroke="#000" stroke-width="6" stroke-linecap="butt"/>
<line x1="203.40" y1="1699.70" x2="210.40" y2="1699.70" stroke="#000" stroke-width="6" stroke-linecap="butt"/>
<line x1="203.40" y1="1654.25" x2="214.40" y2="1654.25" stroke="#000" stroke-width="6" stroke-linecap="butt"/>
<line x1="203.40" y1="1608.80" x2="210.40" y2="1608.80" stroke="#000" stroke-width="6" stroke-linecap="butt"/>
<line x1="203.40" y1="1563.35" x2="214.40" y2="1563.35" stroke="#000" stroke-width="6" stroke-linecap="butt"/>
<line x1="203.40" y1="1517.90" x2="210.40" y2="1517.90" stroke="#000" stroke-width="6" stroke-linecap="butt"/>
<line x1="203.40" y1="1472.45" x2="214.40" y2="1472.45" stroke="#000" stroke-width="6" stroke-linecap="butt"/>
<line x1="203.40" y1="1427.00" x2="210.40" y2="1427.00" stroke="#000" stroke-width="6" stroke-linecap="butt"/>
<line x1="203.40" y1="1381.55" x2="214.40" y2="1381.55" stroke="#000" stroke-width="6" stroke-linecap="butt"/>
<line x1="203.40" y1="1336.10" x2="210.40" y2="1336.10" stroke="#000" stroke-width="6" stroke-linecap="butt"/>
<line x1="203.40" y1="1290.65" x2="214.40" y2="1290.65" stroke="#000" stroke-width="6" stroke-linecap="butt"/>
<line x1="203.40" y1="1245.20" x2="210.40" y2="1245.20" stroke="#000" stroke-width="6" stroke-linecap="butt"/>
<line x1="203.40" y1="1199.75" x2="214.40" y2="1199.75" stroke="#000" stroke-width="6" stroke-linecap="butt"/>
<line x1="203.40" y1="1154.30" x2="210.40" y2="1154.30" stroke="#000" stroke-width="6" stroke-linecap="butt"/>
<line x1="203.40" y1="1108.85" x2="214.40" y2="1108.85" stroke="#000" stroke-width="6" stroke-linecap="butt"/>
<line x1="203.40" y1="1063.40" x2="210.40" y2="1063.40" stroke="#000" stroke-width="6" stroke-linecap="butt"/>
<line x1="1010.50" y1="1742.31" x2="1003.50" y2="1742.31" stroke="#000" stroke-width="6" stroke-linecap="butt"/>
<line x1="1010.50" y1="1694.02" x2="999.50" y2="1694.02" stroke="#000" stroke-width="6" stroke-linecap="butt"/>
<line x1="1010.50" y1="1645.73" x2="1003.50" y2="1645.73" stroke="#000" stroke-width="6" stroke-linecap="butt"/>
<line x1="1010.50" y1="1597.44" x2="999.50" y2="1597.44" stroke="#000" stroke-width="6" stroke-linecap="butt"/>
<line x1="1010.50" y1="1549.15" x2="1003.50" y2="1549.15" stroke="#000" stroke-width="6" stroke-linecap="butt"/>
<line x1="1010.50" y1="1500.86" x2="999.50" y2="1500.86" stroke="#000" stroke-width="6" stroke-linecap="butt"/>
<line x1="1010.50" y1="1452.57" x2="1003.50" y2="1452.57" stroke="#000" stroke-width="6" stroke-linecap="butt"/>
<line x1="1010.50" y1="1404.28" x2="999.50" y2="1404.28" stroke="#000" stroke-width="6" stroke-linecap="butt"/>
<line x1="1010.50" y1="1355.99" x2="1003.50" y2="1355.99" stroke="#000" stroke-width="6" stroke-linecap="butt"/>
<line x1="1010.50" y1="1307.70" x2="999.50" y2="1307.70" stroke="#000" stroke-width="6" stroke-linecap="butt"/>
<line x1="1010.50" y1="1259.41" x2="1003.50" y2="1259.41" stroke="#000" stroke-width="6" stroke-linecap="butt"/>
<line x1="1010.50" y1="1211.12" x2="999.50" y2="1211.12" stroke="#000" stroke-width="6" stroke-linecap="butt"/>
<line x1="1010.50" y1="1162.83" x2="1003.50" y2="1162.83" stroke="#000" stroke-width="6" stroke-linecap="butt"/>
<line x1="1010.50" y1="1114.54" x2="999.50" y2="1114.54" stroke="#000" stroke-width="6" stroke-linecap="butt"/>
<line x1="1010.50" y1="1066.25" x2="1003.50" y2="1066.25" stroke="#000" stroke-width="6" stroke-linecap="butt"/>
<line x1="270.66" y1="1790.60" x2="270.66" y2="1783.60" stroke="#000" stroke-width="6" stroke-linecap="butt"/>
<line x1="337.92" y1="1790.60" x2="337.92" y2="1779.60" stroke="#000" stroke-width="6" stroke-linecap="butt"/>
<line x1="405.18" y1="1790.60" x2="405.18" y2="1783.60" stroke="#000" stroke-width="6" stroke-linecap="butt"/>
<line x1="472.44" y1="1790.60" x2="472.44" y2="1779.60" stroke="#000" stroke-width="6" stroke-linecap="butt"/>
<line x1="539.70" y1="1790.60" x2="539.70" y2="1783.60" stroke="#000" stroke-width="6" stroke-linecap="butt"/>
<line x1="606.96" y1="1790.60" x2="606.96" y2="1779.60" stroke="#000" stroke-width="6" stroke-linecap="butt"/>
<line x1="674.22" y1="1790.60" x2="674.22" y2="1783.60" stroke="#000" stroke-width="6" stroke-linecap="butt"/>
<line x1="741.48" y1="1790.60" x2="741.48" y2="1779.60" stroke="#000" stroke-width="6" stroke-linecap="butt"/>
<line x1="808.74" y1="1790.60" x2="808.74" y2="1783.60" stroke="#000" stroke-width="6" stroke-linecap="butt"/>
<line x1="876.00" y1="1790.60" x2="876.00" y2="1779.60" stroke="#000" stroke-width="6" stroke-linecap="butt"/>
<line x1="943.26" y1="1790.60" x2="943.26" y2="1783.60" stroke="#000" stroke-width="6" stroke-linecap="butt"/>
<text transform="translate(94.94,1763.84) scale(0.9460,1)" font-size="57.42" font-weight="normal" fill="#000" stroke="#000" stroke-width="1.48" stroke-linejoin="round">4.82</text>
<text transform="translate(94.96,1672.94) scale(0.9242,1)" font-size="57.42" font-weight="normal" fill="#000" stroke="#000" stroke-width="1.49" stroke-linejoin="round">4.84</text>
<text transform="translate(94.95,1582.04) scale(0.9319,1)" font-size="57.42" font-weight="normal" fill="#000" stroke="#000" stroke-width="1.49" stroke-linejoin="round">4.86</text>
<text transform="translate(94.95,1491.14) scale(0.9364,1)" font-size="57.42" font-weight="normal" fill="#000" stroke="#000" stroke-width="1.48" stroke-linejoin="round">4.88</text>
<text transform="translate(94.95,1400.24) scale(0.9364,1)" font-size="57.42" font-weight="normal" fill="#000" stroke="#000" stroke-width="1.48" stroke-linejoin="round">4.90</text>
<text transform="translate(94.94,1309.33) scale(0.9419,1)" font-size="57.67" font-weight="normal" fill="#000" stroke="#000" stroke-width="1.48" stroke-linejoin="round">4.92</text>
<text transform="translate(94.96,1218.43) scale(0.9202,1)" font-size="57.67" font-weight="normal" fill="#000" stroke="#000" stroke-width="1.50" stroke-linejoin="round">4.94</text>
<text transform="translate(94.95,1127.53) scale(0.9278,1)" font-size="57.67" font-weight="normal" fill="#000" stroke="#000" stroke-width="1.50" stroke-linejoin="round">4.96</text>
<text transform="translate(94.95,1036.64) scale(0.9364,1)" font-size="57.42" font-weight="normal" fill="#000" stroke="#000" stroke-width="1.48" stroke-linejoin="round">4.98</text>
<text transform="translate(1022.50,1809.29) scale(0.9156,1)" font-size="57.42" font-weight="normal" fill="#000" stroke="#000" stroke-width="1.50" stroke-linejoin="round">0.50</text>
<text transform="translate(1022.50,1712.71) scale(0.9161,1)" font-size="57.42" font-weight="normal" fill="#000" stroke="#000" stroke-width="1.50" stroke-linejoin="round">0.75</text>
<text transform="translate(1019.74,1616.13) scale(0.9437,1)" font-size="57.42" font-weight="normal" fill="#000" stroke="#000" stroke-width="1.48" stroke-linejoin="round">1.00</text>
<text transform="translate(1019.73,1519.54) scale(0.9402,1)" font-size="57.67" font-weight="normal" fill="#000" stroke="#000" stroke-width="1.49" stroke-linejoin="round">1.25</text>
<text transform="translate(1019.74,1422.97) scale(0.9437,1)" font-size="57.42" font-weight="normal" fill="#000" stroke="#000" stroke-width="1.48" stroke-linejoin="round">1.50</text>
<text transform="translate(1019.73,1326.38) scale(0.9375,1)" font-size="57.84" font-weight="normal" fill="#000" stroke="#000" stroke-width="1.49" stroke-linejoin="round">1.75</text>
<text transform="translate(1022.18,1229.81) scale(0.9188,1)" font-size="57.42" font-weight="normal" fill="#000" stroke="#000" stroke-width="1.50" stroke-linejoin="round">2.00</text>
<text transform="translate(1022.18,1133.22) scale(0.9154,1)" font-size="57.67" font-weight="normal" fill="#000" stroke="#000" stroke-width="1.51" stroke-linejoin="round">2.25</text>
<text transform="translate(1022.18,1036.65) scale(0.9188,1)" font-size="57.42" font-weight="normal" fill="#000" stroke="#000" stroke-width="1.50" stroke-linejoin="round">2.50</text>
<text transform="translate(190.66,1857.00) scale(0.8018,1)" font-size="63.05" font-weight="normal" fill="#000" stroke="#000" stroke-width="1.75" stroke-linejoin="round">4</text>
<text transform="translate(323.81,1856.40) scale(0.8905,1)" font-size="61.77" font-weight="normal" fill="#000" stroke="#000" stroke-width="1.63" stroke-linejoin="round">6</text>
<text transform="translate(458.58,1856.40) scale(0.9016,1)" font-size="61.50" font-weight="normal" fill="#000" stroke="#000" stroke-width="1.62" stroke-linejoin="round">8</text>
<text transform="translate(579.63,1856.40) scale(0.8465,1)" font-size="61.50" font-weight="normal" fill="#000" stroke="#000" stroke-width="1.67" stroke-linejoin="round">10</text>
<text transform="translate(714.06,1857.00) scale(0.8471,1)" font-size="62.68" font-weight="normal" fill="#000" stroke="#000" stroke-width="1.70" stroke-linejoin="round">12</text>
<text transform="translate(848.79,1857.00) scale(0.8074,1)" font-size="62.86" font-weight="normal" fill="#000" stroke="#000" stroke-width="1.74" stroke-linejoin="round">14</text>
<text transform="translate(983.24,1856.40) scale(0.8349,1)" font-size="61.77" font-weight="normal" fill="#000" stroke="#000" stroke-width="1.68" stroke-linejoin="round">16</text>
<text transform="translate(541.10,1943.19) scale(0.8342,1)" font-size="62.97" font-weight="normal" fill="#000" stroke="#000" stroke-width="1.72" stroke-linejoin="round">d (nm)</text>
<text transform="translate(905.11,1110.26) scale(0.8375,1)" font-size="78.63" font-weight="bold" fill="#000" stroke="#000" stroke-width="1.71" stroke-linejoin="round">(c)</text>
<line x1="486.70" y1="1132.60" x2="525.00" y2="1132.60" stroke="#000" stroke-width="5.5" stroke-linecap="butt"/>
<line x1="564.00" y1="1132.60" x2="601.90" y2="1132.60" stroke="#000" stroke-width="5.5" stroke-linecap="butt"/>
<rect x="533.5" y="1116.7" width="24" height="27.6" fill="#000"/>
<text transform="translate(615.35,1150.80) scale(0.7827,1)" font-size="58.27" font-weight="normal" fill="#000" stroke="#000" stroke-width="1.63" stroke-linejoin="round">d</text>
<text transform="translate(644.36,1169.00) scale(0.8657,1)" font-size="31.59" font-weight="normal" fill="#000" stroke="#000" stroke-width="0.85" stroke-linejoin="round">x</text>
<text transform="translate(668.17,1154.29) scale(0.7788,1)" font-size="68.16" font-weight="normal" fill="#000" stroke="#000" stroke-width="1.92" stroke-linejoin="round">(g/cc)</text>
<line x1="486.70" y1="1233.60" x2="526.00" y2="1233.60" stroke="#ff0000" stroke-width="6" stroke-linecap="butt"/>
<line x1="564.00" y1="1233.60" x2="603.00" y2="1233.60" stroke="#ff0000" stroke-width="6" stroke-linecap="butt"/>
<ellipse cx="545.1" cy="1232.0" rx="11.7" ry="17" fill="#ff0000"/>
<text transform="translate(614.56,1249.30) scale(0.8757,1)" font-size="58.64" font-weight="normal" fill="#000" stroke="#000" stroke-width="1.56" stroke-linejoin="round">S (cm</text>
<text transform="translate(739.62,1217.60) scale(0.8121,1)" font-size="27.34" font-weight="normal" fill="#000" stroke="#000" stroke-width="0.75" stroke-linejoin="round">2</text>
<text transform="translate(753.00,1249.76) scale(0.7929,1)" font-size="65.96" font-weight="normal" fill="#000" stroke="#000" stroke-width="1.84" stroke-linejoin="round">/g)</text>
<line x1="250.00" y1="1636.90" x2="370.70" y2="1636.90" stroke="#000" stroke-width="3.5" stroke-linecap="butt"/>
<polygon points="232,1636.9 252,1628 252,1645.8" fill="#000"/>
<line x1="855.40" y1="1586.00" x2="962.00" y2="1586.00" stroke="#ff2020" stroke-width="3.5" stroke-linecap="butt"/>
<polygon points="981.5,1586 961,1577.5 961,1594.5" fill="#ff2020"/>
<text transform="translate(52.70,1494.64) rotate(-90) scale(0.9986,1)" font-size="52.81" font-weight="bold" fill="#000" stroke="#000" stroke-width="1.06" stroke-linejoin="round">d</text>
<text transform="translate(68.80,1462.11) rotate(-90) scale(1.0600,1)" font-size="26.91" font-weight="bold" fill="#000" stroke="#000" stroke-width="0.52" stroke-linejoin="round">x</text>
<text transform="translate(52.28,1428.11) rotate(-90) scale(1.2150,1)" font-size="50.84" font-weight="bold" fill="#000" stroke="#000" stroke-width="0.92" stroke-linejoin="round">(g/cc)</text>
<text transform="translate(1169.70,1567.17) rotate(-90) scale(1.3341,1)" font-size="48.94" font-weight="normal" fill="#000" stroke="#000" stroke-width="1.05" stroke-linejoin="round">Sx10</text>
<text transform="translate(1142.22,1430.83) rotate(-90) scale(1.8008,1)" font-size="18.46" font-weight="normal" fill="#000" stroke="#000" stroke-width="0.33" stroke-linejoin="round">6</text>
<text transform="translate(1172.41,1409.50) rotate(-90) scale(1.0632,1)" font-size="53.47" font-weight="normal" fill="#000" stroke="#000" stroke-width="1.30" stroke-linejoin="round">(cm</text>
<text transform="translate(1143.40,1315.32) rotate(-90) scale(1.1391,1)" font-size="26.28" font-weight="normal" fill="#000" stroke="#000" stroke-width="0.61" stroke-linejoin="round">2</text>
<text transform="translate(1172.41,1295.90) rotate(-90) scale(1.1376,1)" font-size="53.47" font-weight="normal" fill="#000" stroke="#000" stroke-width="1.25" stroke-linejoin="round">/g)</text>
<line x1="1520.99" y1="1316.71" x2="1573.61" y2="1207.14" stroke="#ff0000" stroke-width="6" stroke-linecap="butt"/>
<line x1="1519.96" y1="1678.00" x2="1574.64" y2="1543.15" stroke="#000" stroke-width="5.5" stroke-linecap="butt"/>
<line x1="1599.30" y1="1189.02" x2="1836.30" y2="1163.88" stroke="#ff0000" stroke-width="6" stroke-linecap="butt"/>
<line x1="1599.26" y1="1524.21" x2="1836.34" y2="1494.16" stroke="#000" stroke-width="5.5" stroke-linecap="butt"/>
<line x1="1872.14" y1="1160.46" x2="2177.26" y2="1134.58" stroke="#ff0000" stroke-width="6" stroke-linecap="butt"/>
<line x1="1872.12" y1="1490.22" x2="2177.28" y2="1461.79" stroke="#000" stroke-width="5.5" stroke-linecap="butt"/>
<ellipse cx="1513.2" cy="1332.9" rx="15" ry="16.5" fill="#ff0000"/>
<ellipse cx="1581.4" cy="1190.9" rx="15" ry="16.5" fill="#ff0000"/>
<ellipse cx="1854.2" cy="1162.0" rx="15" ry="16.5" fill="#ff0000"/>
<ellipse cx="2195.2" cy="1133.1" rx="15" ry="16.5" fill="#ff0000"/>
<rect x="1502.2" y="1682.2" width="22" height="25" fill="#000"/>
<rect x="1570.4" y="1514.0" width="22" height="25" fill="#000"/>
<rect x="1843.2" y="1479.4" width="22" height="25" fill="#000"/>
<rect x="2184.2" y="1447.6" width="22" height="25" fill="#000"/>
<path d="M1445,1021.7H2264V1791.3H1445Z" fill="none" stroke="#000" stroke-width="8.8" stroke-linejoin="round"/>
<line x1="1445.00" y1="1347.40" x2="1457.00" y2="1347.40" stroke="#000" stroke-width="6" stroke-linecap="butt"/>
<line x1="1445.00" y1="1294.80" x2="1457.00" y2="1294.80" stroke="#000" stroke-width="6" stroke-linecap="butt"/>
<line x1="1445.00" y1="1242.20" x2="1457.00" y2="1242.20" stroke="#000" stroke-width="6" stroke-linecap="butt"/>
<line x1="1445.00" y1="1189.60" x2="1457.00" y2="1189.60" stroke="#000" stroke-width="6" stroke-linecap="butt"/>
<line x1="1445.00" y1="1137.00" x2="1457.00" y2="1137.00" stroke="#000" stroke-width="6" stroke-linecap="butt"/>
<line x1="1445.00" y1="1084.40" x2="1457.00" y2="1084.40" stroke="#000" stroke-width="6" stroke-linecap="butt"/>
<line x1="1445.00" y1="1031.80" x2="1457.00" y2="1031.80" stroke="#000" stroke-width="6" stroke-linecap="butt"/>
<line x1="1445.00" y1="1400.00" x2="1457.00" y2="1400.00" stroke="#000" stroke-width="6" stroke-linecap="butt"/>
<line x1="1445.00" y1="1733.93" x2="1457.00" y2="1733.93" stroke="#000" stroke-width="6" stroke-linecap="butt"/>
<line x1="1445.00" y1="1677.86" x2="1457.00" y2="1677.86" stroke="#000" stroke-width="6" stroke-linecap="butt"/>
<line x1="1445.00" y1="1621.79" x2="1457.00" y2="1621.79" stroke="#000" stroke-width="6" stroke-linecap="butt"/>
<line x1="1445.00" y1="1565.72" x2="1457.00" y2="1565.72" stroke="#000" stroke-width="6" stroke-linecap="butt"/>
<line x1="1445.00" y1="1509.65" x2="1457.00" y2="1509.65" stroke="#000" stroke-width="6" stroke-linecap="butt"/>
<line x1="1445.00" y1="1453.58" x2="1457.00" y2="1453.58" stroke="#000" stroke-width="6" stroke-linecap="butt"/>
<line x1="1581.40" y1="1791.30" x2="1581.40" y2="1779.30" stroke="#000" stroke-width="6" stroke-linecap="butt"/>
<line x1="1717.80" y1="1791.30" x2="1717.80" y2="1779.30" stroke="#000" stroke-width="6" stroke-linecap="butt"/>
<line x1="1854.20" y1="1791.30" x2="1854.20" y2="1779.30" stroke="#000" stroke-width="6" stroke-linecap="butt"/>
<line x1="1990.60" y1="1791.30" x2="1990.60" y2="1779.30" stroke="#000" stroke-width="6" stroke-linecap="butt"/>
<line x1="2127.00" y1="1791.30" x2="2127.00" y2="1779.30" stroke="#000" stroke-width="6" stroke-linecap="butt"/>
<rect x="1437" y="1402" width="16" height="10" fill="#fff"/>
<line x1="1433.00" y1="1406.00" x2="1457.00" y2="1396.00" stroke="#000" stroke-width="4.5" stroke-linecap="butt"/>
<line x1="1433.00" y1="1418.00" x2="1457.00" y2="1408.00" stroke="#000" stroke-width="4.5" stroke-linecap="butt"/>
<rect x="2256" y="1402" width="16" height="10" fill="#fff"/>
<line x1="2252.00" y1="1406.00" x2="2276.00" y2="1396.00" stroke="#000" stroke-width="4.5" stroke-linecap="butt"/>
<line x1="2252.00" y1="1418.00" x2="2276.00" y2="1408.00" stroke="#000" stroke-width="4.5" stroke-linecap="butt"/>
<text transform="translate(1302.29,1419.17) scale(0.9612,1)" font-size="58.89" font-weight="normal" fill="#000" stroke="#000" stroke-width="1.50" stroke-linejoin="round">3.640</text>
<text transform="translate(1302.29,1366.57) scale(0.9612,1)" font-size="58.89" font-weight="normal" fill="#000" stroke="#000" stroke-width="1.50" stroke-linejoin="round">3.648</text>
<text transform="translate(1302.30,1313.96) scale(0.9534,1)" font-size="59.15" font-weight="normal" fill="#000" stroke="#000" stroke-width="1.51" stroke-linejoin="round">3.656</text>
<text transform="translate(1302.32,1261.36) scale(0.9472,1)" font-size="59.15" font-weight="normal" fill="#000" stroke="#000" stroke-width="1.52" stroke-linejoin="round">3.664</text>
<text transform="translate(1302.27,1208.76) scale(0.9646,1)" font-size="59.15" font-weight="normal" fill="#000" stroke="#000" stroke-width="1.51" stroke-linejoin="round">3.672</text>
<text transform="translate(1302.29,1156.17) scale(0.9612,1)" font-size="58.89" font-weight="normal" fill="#000" stroke="#000" stroke-width="1.50" stroke-linejoin="round">3.680</text>
<text transform="translate(1302.29,1103.57) scale(0.9612,1)" font-size="58.89" font-weight="normal" fill="#000" stroke="#000" stroke-width="1.50" stroke-linejoin="round">3.688</text>
<text transform="translate(1302.30,1050.96) scale(0.9534,1)" font-size="59.15" font-weight="normal" fill="#000" stroke="#000" stroke-width="1.51" stroke-linejoin="round">3.696</text>
<text transform="translate(1302.52,1809.17) scale(0.9594,1)" font-size="58.89" font-weight="normal" fill="#000" stroke="#000" stroke-width="1.50" stroke-linejoin="round">2.970</text>
<text transform="translate(1302.53,1753.09) scale(0.9517,1)" font-size="59.15" font-weight="normal" fill="#000" stroke="#000" stroke-width="1.52" stroke-linejoin="round">2.976</text>
<text transform="translate(1302.50,1697.03) scale(0.9671,1)" font-size="58.89" font-weight="normal" fill="#000" stroke="#000" stroke-width="1.50" stroke-linejoin="round">2.982</text>
<text transform="translate(1302.52,1640.96) scale(0.9594,1)" font-size="58.89" font-weight="normal" fill="#000" stroke="#000" stroke-width="1.50" stroke-linejoin="round">2.988</text>
<text transform="translate(1302.54,1584.88) scale(0.9455,1)" font-size="59.15" font-weight="normal" fill="#000" stroke="#000" stroke-width="1.52" stroke-linejoin="round">2.994</text>
<text transform="translate(1302.29,1528.82) scale(0.9612,1)" font-size="58.89" font-weight="normal" fill="#000" stroke="#000" stroke-width="1.50" stroke-linejoin="round">3.000</text>
<text transform="translate(1302.30,1472.75) scale(0.9575,1)" font-size="58.89" font-weight="normal" fill="#000" stroke="#000" stroke-width="1.50" stroke-linejoin="round">3.006</text>
<text transform="translate(1431.18,1858.50) scale(0.8496,1)" font-size="64.57" font-weight="normal" fill="#000" stroke="#000" stroke-width="1.75" stroke-linejoin="round">4</text>
<text transform="translate(1566.09,1857.88) scale(0.9435,1)" font-size="63.26" font-weight="normal" fill="#000" stroke="#000" stroke-width="1.63" stroke-linejoin="round">6</text>
<text transform="translate(1702.76,1857.88) scale(0.9553,1)" font-size="62.98" font-weight="normal" fill="#000" stroke="#000" stroke-width="1.61" stroke-linejoin="round">8</text>
<text transform="translate(1824.77,1857.88) scale(0.8901,1)" font-size="62.98" font-weight="normal" fill="#000" stroke="#000" stroke-width="1.67" stroke-linejoin="round">10</text>
<text transform="translate(1961.07,1858.50) scale(0.8908,1)" font-size="64.19" font-weight="normal" fill="#000" stroke="#000" stroke-width="1.70" stroke-linejoin="round">12</text>
<text transform="translate(2097.70,1858.50) scale(0.8490,1)" font-size="64.38" font-weight="normal" fill="#000" stroke="#000" stroke-width="1.74" stroke-linejoin="round">14</text>
<text transform="translate(2234.02,1857.88) scale(0.8779,1)" font-size="63.26" font-weight="normal" fill="#000" stroke="#000" stroke-width="1.68" stroke-linejoin="round">16</text>
<text transform="translate(1785.64,1923.40) scale(0.9179,1)" font-size="61.98" font-weight="normal" fill="#000" stroke="#000" stroke-width="1.62" stroke-linejoin="round">d (nm)</text>
<text transform="translate(2142.01,1098.02) scale(0.9964,1)" font-size="77.42" font-weight="bold" fill="#000" stroke="#000" stroke-width="1.55" stroke-linejoin="round">(d)</text>
<line x1="2032.00" y1="1595.70" x2="2075.00" y2="1595.70" stroke="#ff0000" stroke-width="6" stroke-linecap="butt"/>
<line x1="2117.00" y1="1595.70" x2="2156.50" y2="1595.70" stroke="#ff0000" stroke-width="6" stroke-linecap="butt"/>
<ellipse cx="2094.6" cy="1595.7" rx="13.5" ry="16.7" fill="#ff0000"/>
<text transform="translate(2169.19,1617.00) scale(0.9823,1)" font-size="56.95" font-weight="normal" fill="#000" stroke="#000" stroke-width="1.44" stroke-linejoin="round">L</text>
<text transform="translate(2202.49,1636.40) scale(0.9227,1)" font-size="34.12" font-weight="normal" fill="#000" stroke="#000" stroke-width="0.89" stroke-linejoin="round">A</text>
<line x1="2032.00" y1="1687.50" x2="2075.00" y2="1687.50" stroke="#000" stroke-width="5.5" stroke-linecap="butt"/>
<line x1="2117.00" y1="1687.50" x2="2156.50" y2="1687.50" stroke="#000" stroke-width="5.5" stroke-linecap="butt"/>
<rect x="2084.1" y="1672.8" width="23.6" height="24.4" fill="#000"/>
<text transform="translate(2170.04,1707.40) scale(0.8319,1)" font-size="61.03" font-weight="normal" fill="#000" stroke="#000" stroke-width="1.67" stroke-linejoin="round">L</text>
<text transform="translate(2200.31,1724.00) scale(1.0891,1)" font-size="34.74" font-weight="normal" fill="#000" stroke="#000" stroke-width="0.83" stroke-linejoin="round">B</text>
<text transform="translate(1272.00,1515.20) rotate(-90) scale(1.1209,1)" font-size="55.89" font-weight="normal" fill="#000" stroke="#000" stroke-width="1.32" stroke-linejoin="round">L</text>
<text transform="translate(1290.00,1475.48) rotate(-90) scale(0.8827,1)" font-size="32.94" font-weight="normal" fill="#000" stroke="#000" stroke-width="0.87" stroke-linejoin="round">A</text>
<text transform="translate(1274.70,1442.05) rotate(-90) scale(0.8021,1)" font-size="66.97" font-weight="normal" fill="#000" stroke="#000" stroke-width="1.86" stroke-linejoin="round">,</text>
<text transform="translate(1272.00,1414.61) rotate(-90) scale(1.1243,1)" font-size="55.89" font-weight="normal" fill="#000" stroke="#000" stroke-width="1.32" stroke-linejoin="round">L</text>
<text transform="translate(1290.00,1380.99) rotate(-90) scale(0.9634,1)" font-size="39.27" font-weight="normal" fill="#000" stroke="#000" stroke-width="1.00" stroke-linejoin="round">B</text>
<text transform="translate(1272.53,1335.81) rotate(-90) scale(1.0896,1)" font-size="58.58" font-weight="normal" fill="#000" stroke="#000" stroke-width="1.40" stroke-linejoin="round">(Å)</text>
</g>
</svg></body></html>
